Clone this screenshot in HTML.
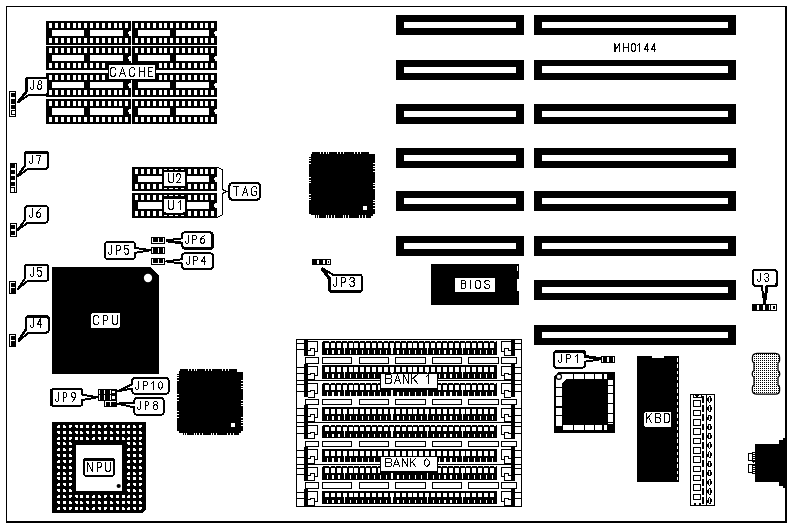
<!DOCTYPE html>
<html><head><meta charset="utf-8"><title>MH0144</title>
<style>
html,body{margin:0;padding:0;background:#fff;}
body{width:791px;height:527px;overflow:hidden;font-family:"Liberation Sans",sans-serif;}
svg{display:block;}
</style></head><body>
<svg width="791" height="527" viewBox="0 0 791 527" shape-rendering="crispEdges">
<rect x="0" y="0" width="791" height="527" fill="#fff"/>
<rect x="6" y="6" width="781" height="1" fill="#000"/>
<rect x="6" y="6" width="1" height="517" fill="#000"/>
<rect x="785" y="6" width="2" height="517" fill="#000"/>
<rect x="6" y="521" width="781" height="2" fill="#000"/>
<rect x="46" y="21" width="85" height="24" fill="#000"/>
<rect x="49" y="23" width="3.4" height="5" fill="#fff"/>
<rect x="49" y="38" width="3.4" height="5" fill="#fff"/>
<rect x="55" y="23" width="3.4" height="5" fill="#fff"/>
<rect x="55" y="38" width="3.4" height="5" fill="#fff"/>
<rect x="60.5" y="23" width="3.4" height="5" fill="#fff"/>
<rect x="60.5" y="38" width="3.4" height="5" fill="#fff"/>
<rect x="66.5" y="23" width="3.4" height="5" fill="#fff"/>
<rect x="66.5" y="38" width="3.4" height="5" fill="#fff"/>
<rect x="72.5" y="23" width="3.4" height="5" fill="#fff"/>
<rect x="72.5" y="38" width="3.4" height="5" fill="#fff"/>
<rect x="78" y="23" width="3.4" height="5" fill="#fff"/>
<rect x="78" y="38" width="3.4" height="5" fill="#fff"/>
<rect x="84" y="23" width="3.4" height="5" fill="#fff"/>
<rect x="84" y="38" width="3.4" height="5" fill="#fff"/>
<rect x="90" y="23" width="3.4" height="5" fill="#fff"/>
<rect x="90" y="38" width="3.4" height="5" fill="#fff"/>
<rect x="96" y="23" width="3.4" height="5" fill="#fff"/>
<rect x="96" y="38" width="3.4" height="5" fill="#fff"/>
<rect x="101.5" y="23" width="3.4" height="5" fill="#fff"/>
<rect x="101.5" y="38" width="3.4" height="5" fill="#fff"/>
<rect x="107.5" y="23" width="3.4" height="5" fill="#fff"/>
<rect x="107.5" y="38" width="3.4" height="5" fill="#fff"/>
<rect x="113.5" y="23" width="3.4" height="5" fill="#fff"/>
<rect x="113.5" y="38" width="3.4" height="5" fill="#fff"/>
<rect x="119" y="23" width="3.4" height="5" fill="#fff"/>
<rect x="119" y="38" width="3.4" height="5" fill="#fff"/>
<rect x="125" y="23" width="3.4" height="5" fill="#fff"/>
<rect x="125" y="38" width="3.4" height="5" fill="#fff"/>
<rect x="52" y="30" width="32" height="6" fill="#fff"/>
<rect x="90" y="30" width="33" height="6" fill="#fff"/>
<path d="M131.2,30.5 L129.5,30.5 L127.8,33 L129.5,35.5 L131.2,35.5 Z" fill="#fff" stroke="none" stroke-width="1"/>
<rect x="132" y="21" width="85" height="24" fill="#000"/>
<rect x="135" y="23" width="3.4" height="5" fill="#fff"/>
<rect x="135" y="38" width="3.4" height="5" fill="#fff"/>
<rect x="141" y="23" width="3.4" height="5" fill="#fff"/>
<rect x="141" y="38" width="3.4" height="5" fill="#fff"/>
<rect x="146.5" y="23" width="3.4" height="5" fill="#fff"/>
<rect x="146.5" y="38" width="3.4" height="5" fill="#fff"/>
<rect x="152.5" y="23" width="3.4" height="5" fill="#fff"/>
<rect x="152.5" y="38" width="3.4" height="5" fill="#fff"/>
<rect x="158.5" y="23" width="3.4" height="5" fill="#fff"/>
<rect x="158.5" y="38" width="3.4" height="5" fill="#fff"/>
<rect x="164" y="23" width="3.4" height="5" fill="#fff"/>
<rect x="164" y="38" width="3.4" height="5" fill="#fff"/>
<rect x="170" y="23" width="3.4" height="5" fill="#fff"/>
<rect x="170" y="38" width="3.4" height="5" fill="#fff"/>
<rect x="176" y="23" width="3.4" height="5" fill="#fff"/>
<rect x="176" y="38" width="3.4" height="5" fill="#fff"/>
<rect x="182" y="23" width="3.4" height="5" fill="#fff"/>
<rect x="182" y="38" width="3.4" height="5" fill="#fff"/>
<rect x="187.5" y="23" width="3.4" height="5" fill="#fff"/>
<rect x="187.5" y="38" width="3.4" height="5" fill="#fff"/>
<rect x="193.5" y="23" width="3.4" height="5" fill="#fff"/>
<rect x="193.5" y="38" width="3.4" height="5" fill="#fff"/>
<rect x="199.5" y="23" width="3.4" height="5" fill="#fff"/>
<rect x="199.5" y="38" width="3.4" height="5" fill="#fff"/>
<rect x="205" y="23" width="3.4" height="5" fill="#fff"/>
<rect x="205" y="38" width="3.4" height="5" fill="#fff"/>
<rect x="211" y="23" width="3.4" height="5" fill="#fff"/>
<rect x="211" y="38" width="3.4" height="5" fill="#fff"/>
<rect x="138" y="30" width="32" height="6" fill="#fff"/>
<rect x="176" y="30" width="33" height="6" fill="#fff"/>
<path d="M217.2,30.5 L215.5,30.5 L213.8,33 L215.5,35.5 L217.2,35.5 Z" fill="#fff" stroke="none" stroke-width="1"/>
<rect x="46" y="46" width="85" height="24" fill="#000"/>
<rect x="49" y="48" width="3.4" height="5" fill="#fff"/>
<rect x="49" y="63" width="3.4" height="5" fill="#fff"/>
<rect x="55" y="48" width="3.4" height="5" fill="#fff"/>
<rect x="55" y="63" width="3.4" height="5" fill="#fff"/>
<rect x="60.5" y="48" width="3.4" height="5" fill="#fff"/>
<rect x="60.5" y="63" width="3.4" height="5" fill="#fff"/>
<rect x="66.5" y="48" width="3.4" height="5" fill="#fff"/>
<rect x="66.5" y="63" width="3.4" height="5" fill="#fff"/>
<rect x="72.5" y="48" width="3.4" height="5" fill="#fff"/>
<rect x="72.5" y="63" width="3.4" height="5" fill="#fff"/>
<rect x="78" y="48" width="3.4" height="5" fill="#fff"/>
<rect x="78" y="63" width="3.4" height="5" fill="#fff"/>
<rect x="84" y="48" width="3.4" height="5" fill="#fff"/>
<rect x="84" y="63" width="3.4" height="5" fill="#fff"/>
<rect x="90" y="48" width="3.4" height="5" fill="#fff"/>
<rect x="90" y="63" width="3.4" height="5" fill="#fff"/>
<rect x="96" y="48" width="3.4" height="5" fill="#fff"/>
<rect x="96" y="63" width="3.4" height="5" fill="#fff"/>
<rect x="101.5" y="48" width="3.4" height="5" fill="#fff"/>
<rect x="101.5" y="63" width="3.4" height="5" fill="#fff"/>
<rect x="107.5" y="48" width="3.4" height="5" fill="#fff"/>
<rect x="107.5" y="63" width="3.4" height="5" fill="#fff"/>
<rect x="113.5" y="48" width="3.4" height="5" fill="#fff"/>
<rect x="113.5" y="63" width="3.4" height="5" fill="#fff"/>
<rect x="119" y="48" width="3.4" height="5" fill="#fff"/>
<rect x="119" y="63" width="3.4" height="5" fill="#fff"/>
<rect x="125" y="48" width="3.4" height="5" fill="#fff"/>
<rect x="125" y="63" width="3.4" height="5" fill="#fff"/>
<rect x="52" y="55" width="32" height="6" fill="#fff"/>
<rect x="90" y="55" width="33" height="6" fill="#fff"/>
<path d="M131.2,55.5 L129.5,55.5 L127.8,58 L129.5,60.5 L131.2,60.5 Z" fill="#fff" stroke="none" stroke-width="1"/>
<rect x="132" y="46" width="85" height="24" fill="#000"/>
<rect x="135" y="48" width="3.4" height="5" fill="#fff"/>
<rect x="135" y="63" width="3.4" height="5" fill="#fff"/>
<rect x="141" y="48" width="3.4" height="5" fill="#fff"/>
<rect x="141" y="63" width="3.4" height="5" fill="#fff"/>
<rect x="146.5" y="48" width="3.4" height="5" fill="#fff"/>
<rect x="146.5" y="63" width="3.4" height="5" fill="#fff"/>
<rect x="152.5" y="48" width="3.4" height="5" fill="#fff"/>
<rect x="152.5" y="63" width="3.4" height="5" fill="#fff"/>
<rect x="158.5" y="48" width="3.4" height="5" fill="#fff"/>
<rect x="158.5" y="63" width="3.4" height="5" fill="#fff"/>
<rect x="164" y="48" width="3.4" height="5" fill="#fff"/>
<rect x="164" y="63" width="3.4" height="5" fill="#fff"/>
<rect x="170" y="48" width="3.4" height="5" fill="#fff"/>
<rect x="170" y="63" width="3.4" height="5" fill="#fff"/>
<rect x="176" y="48" width="3.4" height="5" fill="#fff"/>
<rect x="176" y="63" width="3.4" height="5" fill="#fff"/>
<rect x="182" y="48" width="3.4" height="5" fill="#fff"/>
<rect x="182" y="63" width="3.4" height="5" fill="#fff"/>
<rect x="187.5" y="48" width="3.4" height="5" fill="#fff"/>
<rect x="187.5" y="63" width="3.4" height="5" fill="#fff"/>
<rect x="193.5" y="48" width="3.4" height="5" fill="#fff"/>
<rect x="193.5" y="63" width="3.4" height="5" fill="#fff"/>
<rect x="199.5" y="48" width="3.4" height="5" fill="#fff"/>
<rect x="199.5" y="63" width="3.4" height="5" fill="#fff"/>
<rect x="205" y="48" width="3.4" height="5" fill="#fff"/>
<rect x="205" y="63" width="3.4" height="5" fill="#fff"/>
<rect x="211" y="48" width="3.4" height="5" fill="#fff"/>
<rect x="211" y="63" width="3.4" height="5" fill="#fff"/>
<rect x="138" y="55" width="32" height="6" fill="#fff"/>
<rect x="176" y="55" width="33" height="6" fill="#fff"/>
<path d="M217.2,55.5 L215.5,55.5 L213.8,58 L215.5,60.5 L217.2,60.5 Z" fill="#fff" stroke="none" stroke-width="1"/>
<rect x="46" y="73" width="85" height="24" fill="#000"/>
<rect x="49" y="75" width="3.4" height="5" fill="#fff"/>
<rect x="49" y="90" width="3.4" height="5" fill="#fff"/>
<rect x="55" y="75" width="3.4" height="5" fill="#fff"/>
<rect x="55" y="90" width="3.4" height="5" fill="#fff"/>
<rect x="60.5" y="75" width="3.4" height="5" fill="#fff"/>
<rect x="60.5" y="90" width="3.4" height="5" fill="#fff"/>
<rect x="66.5" y="75" width="3.4" height="5" fill="#fff"/>
<rect x="66.5" y="90" width="3.4" height="5" fill="#fff"/>
<rect x="72.5" y="75" width="3.4" height="5" fill="#fff"/>
<rect x="72.5" y="90" width="3.4" height="5" fill="#fff"/>
<rect x="78" y="75" width="3.4" height="5" fill="#fff"/>
<rect x="78" y="90" width="3.4" height="5" fill="#fff"/>
<rect x="84" y="75" width="3.4" height="5" fill="#fff"/>
<rect x="84" y="90" width="3.4" height="5" fill="#fff"/>
<rect x="90" y="75" width="3.4" height="5" fill="#fff"/>
<rect x="90" y="90" width="3.4" height="5" fill="#fff"/>
<rect x="96" y="75" width="3.4" height="5" fill="#fff"/>
<rect x="96" y="90" width="3.4" height="5" fill="#fff"/>
<rect x="101.5" y="75" width="3.4" height="5" fill="#fff"/>
<rect x="101.5" y="90" width="3.4" height="5" fill="#fff"/>
<rect x="107.5" y="75" width="3.4" height="5" fill="#fff"/>
<rect x="107.5" y="90" width="3.4" height="5" fill="#fff"/>
<rect x="113.5" y="75" width="3.4" height="5" fill="#fff"/>
<rect x="113.5" y="90" width="3.4" height="5" fill="#fff"/>
<rect x="119" y="75" width="3.4" height="5" fill="#fff"/>
<rect x="119" y="90" width="3.4" height="5" fill="#fff"/>
<rect x="125" y="75" width="3.4" height="5" fill="#fff"/>
<rect x="125" y="90" width="3.4" height="5" fill="#fff"/>
<rect x="52" y="82" width="32" height="6" fill="#fff"/>
<rect x="90" y="82" width="33" height="6" fill="#fff"/>
<path d="M131.2,82.5 L129.5,82.5 L127.8,85 L129.5,87.5 L131.2,87.5 Z" fill="#fff" stroke="none" stroke-width="1"/>
<rect x="132" y="73" width="85" height="24" fill="#000"/>
<rect x="135" y="75" width="3.4" height="5" fill="#fff"/>
<rect x="135" y="90" width="3.4" height="5" fill="#fff"/>
<rect x="141" y="75" width="3.4" height="5" fill="#fff"/>
<rect x="141" y="90" width="3.4" height="5" fill="#fff"/>
<rect x="146.5" y="75" width="3.4" height="5" fill="#fff"/>
<rect x="146.5" y="90" width="3.4" height="5" fill="#fff"/>
<rect x="152.5" y="75" width="3.4" height="5" fill="#fff"/>
<rect x="152.5" y="90" width="3.4" height="5" fill="#fff"/>
<rect x="158.5" y="75" width="3.4" height="5" fill="#fff"/>
<rect x="158.5" y="90" width="3.4" height="5" fill="#fff"/>
<rect x="164" y="75" width="3.4" height="5" fill="#fff"/>
<rect x="164" y="90" width="3.4" height="5" fill="#fff"/>
<rect x="170" y="75" width="3.4" height="5" fill="#fff"/>
<rect x="170" y="90" width="3.4" height="5" fill="#fff"/>
<rect x="176" y="75" width="3.4" height="5" fill="#fff"/>
<rect x="176" y="90" width="3.4" height="5" fill="#fff"/>
<rect x="182" y="75" width="3.4" height="5" fill="#fff"/>
<rect x="182" y="90" width="3.4" height="5" fill="#fff"/>
<rect x="187.5" y="75" width="3.4" height="5" fill="#fff"/>
<rect x="187.5" y="90" width="3.4" height="5" fill="#fff"/>
<rect x="193.5" y="75" width="3.4" height="5" fill="#fff"/>
<rect x="193.5" y="90" width="3.4" height="5" fill="#fff"/>
<rect x="199.5" y="75" width="3.4" height="5" fill="#fff"/>
<rect x="199.5" y="90" width="3.4" height="5" fill="#fff"/>
<rect x="205" y="75" width="3.4" height="5" fill="#fff"/>
<rect x="205" y="90" width="3.4" height="5" fill="#fff"/>
<rect x="211" y="75" width="3.4" height="5" fill="#fff"/>
<rect x="211" y="90" width="3.4" height="5" fill="#fff"/>
<rect x="138" y="82" width="32" height="6" fill="#fff"/>
<rect x="176" y="82" width="33" height="6" fill="#fff"/>
<path d="M217.2,82.5 L215.5,82.5 L213.8,85 L215.5,87.5 L217.2,87.5 Z" fill="#fff" stroke="none" stroke-width="1"/>
<rect x="46" y="99" width="85" height="24.5" fill="#000"/>
<rect x="49" y="101" width="3.4" height="5" fill="#fff"/>
<rect x="49" y="116.5" width="3.4" height="5" fill="#fff"/>
<rect x="55" y="101" width="3.4" height="5" fill="#fff"/>
<rect x="55" y="116.5" width="3.4" height="5" fill="#fff"/>
<rect x="60.5" y="101" width="3.4" height="5" fill="#fff"/>
<rect x="60.5" y="116.5" width="3.4" height="5" fill="#fff"/>
<rect x="66.5" y="101" width="3.4" height="5" fill="#fff"/>
<rect x="66.5" y="116.5" width="3.4" height="5" fill="#fff"/>
<rect x="72.5" y="101" width="3.4" height="5" fill="#fff"/>
<rect x="72.5" y="116.5" width="3.4" height="5" fill="#fff"/>
<rect x="78" y="101" width="3.4" height="5" fill="#fff"/>
<rect x="78" y="116.5" width="3.4" height="5" fill="#fff"/>
<rect x="84" y="101" width="3.4" height="5" fill="#fff"/>
<rect x="84" y="116.5" width="3.4" height="5" fill="#fff"/>
<rect x="90" y="101" width="3.4" height="5" fill="#fff"/>
<rect x="90" y="116.5" width="3.4" height="5" fill="#fff"/>
<rect x="96" y="101" width="3.4" height="5" fill="#fff"/>
<rect x="96" y="116.5" width="3.4" height="5" fill="#fff"/>
<rect x="101.5" y="101" width="3.4" height="5" fill="#fff"/>
<rect x="101.5" y="116.5" width="3.4" height="5" fill="#fff"/>
<rect x="107.5" y="101" width="3.4" height="5" fill="#fff"/>
<rect x="107.5" y="116.5" width="3.4" height="5" fill="#fff"/>
<rect x="113.5" y="101" width="3.4" height="5" fill="#fff"/>
<rect x="113.5" y="116.5" width="3.4" height="5" fill="#fff"/>
<rect x="119" y="101" width="3.4" height="5" fill="#fff"/>
<rect x="119" y="116.5" width="3.4" height="5" fill="#fff"/>
<rect x="125" y="101" width="3.4" height="5" fill="#fff"/>
<rect x="125" y="116.5" width="3.4" height="5" fill="#fff"/>
<rect x="52" y="108" width="32" height="6.5" fill="#fff"/>
<rect x="90" y="108" width="33" height="6.5" fill="#fff"/>
<path d="M131.2,108.75 L129.5,108.75 L127.8,111.25 L129.5,113.75 L131.2,113.75 Z" fill="#fff" stroke="none" stroke-width="1"/>
<rect x="132" y="99" width="85" height="24.5" fill="#000"/>
<rect x="135" y="101" width="3.4" height="5" fill="#fff"/>
<rect x="135" y="116.5" width="3.4" height="5" fill="#fff"/>
<rect x="141" y="101" width="3.4" height="5" fill="#fff"/>
<rect x="141" y="116.5" width="3.4" height="5" fill="#fff"/>
<rect x="146.5" y="101" width="3.4" height="5" fill="#fff"/>
<rect x="146.5" y="116.5" width="3.4" height="5" fill="#fff"/>
<rect x="152.5" y="101" width="3.4" height="5" fill="#fff"/>
<rect x="152.5" y="116.5" width="3.4" height="5" fill="#fff"/>
<rect x="158.5" y="101" width="3.4" height="5" fill="#fff"/>
<rect x="158.5" y="116.5" width="3.4" height="5" fill="#fff"/>
<rect x="164" y="101" width="3.4" height="5" fill="#fff"/>
<rect x="164" y="116.5" width="3.4" height="5" fill="#fff"/>
<rect x="170" y="101" width="3.4" height="5" fill="#fff"/>
<rect x="170" y="116.5" width="3.4" height="5" fill="#fff"/>
<rect x="176" y="101" width="3.4" height="5" fill="#fff"/>
<rect x="176" y="116.5" width="3.4" height="5" fill="#fff"/>
<rect x="182" y="101" width="3.4" height="5" fill="#fff"/>
<rect x="182" y="116.5" width="3.4" height="5" fill="#fff"/>
<rect x="187.5" y="101" width="3.4" height="5" fill="#fff"/>
<rect x="187.5" y="116.5" width="3.4" height="5" fill="#fff"/>
<rect x="193.5" y="101" width="3.4" height="5" fill="#fff"/>
<rect x="193.5" y="116.5" width="3.4" height="5" fill="#fff"/>
<rect x="199.5" y="101" width="3.4" height="5" fill="#fff"/>
<rect x="199.5" y="116.5" width="3.4" height="5" fill="#fff"/>
<rect x="205" y="101" width="3.4" height="5" fill="#fff"/>
<rect x="205" y="116.5" width="3.4" height="5" fill="#fff"/>
<rect x="211" y="101" width="3.4" height="5" fill="#fff"/>
<rect x="211" y="116.5" width="3.4" height="5" fill="#fff"/>
<rect x="138" y="108" width="32" height="6.5" fill="#fff"/>
<rect x="176" y="108" width="33" height="6.5" fill="#fff"/>
<path d="M217.2,108.75 L215.5,108.75 L213.8,111.25 L215.5,113.75 L217.2,113.75 Z" fill="#fff" stroke="none" stroke-width="1"/>
<rect x="107.6" y="62.6" width="48.4" height="17.4" fill="#000"/>
<rect x="108.6" y="65" width="46.4" height="14" fill="#fff"/>
<path d="M 115.5,69.5 Q 115.5,67.5 113.5,67.5 L 112.5,67.5 Q 110.5,67.5 110.5,70.5 L 110.5,73.5 Q 110.5,76.5 112.5,76.5 L 113.5,76.5 Q 115.5,76.5 115.5,73.5" fill="none" stroke="#000" stroke-width="1" stroke-linecap="square" stroke-linejoin="round"/>
<path d="M 119.5,76.5 L 122.5,67.5 L 125.5,76.5 M 120.5,73.5 L 124.5,73.5" fill="none" stroke="#000" stroke-width="1" stroke-linecap="square" stroke-linejoin="round"/>
<path d="M 134.5,69.5 Q 134.5,67.5 132.5,67.5 L 132.5,67.5 Q 129.5,67.5 129.5,70.5 L 129.5,73.5 Q 129.5,76.5 132.5,76.5 L 132.5,76.5 Q 134.5,76.5 134.5,73.5" fill="none" stroke="#000" stroke-width="1" stroke-linecap="square" stroke-linejoin="round"/>
<path d="M 139.5,67.5 L 139.5,76.5 M 144.5,67.5 L 144.5,76.5 M 139.5,71.5 L 144.5,71.5" fill="none" stroke="#000" stroke-width="1" stroke-linecap="square" stroke-linejoin="round"/>
<path d="M 152.5,67.5 L 148.5,67.5 L 148.5,76.5 L 152.5,76.5 M 148.5,71.5 L 151.5,71.5" fill="none" stroke="#000" stroke-width="1" stroke-linecap="square" stroke-linejoin="round"/>
<rect x="132" y="167" width="85" height="24" fill="#000"/>
<rect x="135" y="169" width="3.4" height="5" fill="#fff"/>
<rect x="135" y="184" width="3.4" height="5" fill="#fff"/>
<rect x="141" y="169" width="3.4" height="5" fill="#fff"/>
<rect x="141" y="184" width="3.4" height="5" fill="#fff"/>
<rect x="146.5" y="169" width="3.4" height="5" fill="#fff"/>
<rect x="146.5" y="184" width="3.4" height="5" fill="#fff"/>
<rect x="152.5" y="169" width="3.4" height="5" fill="#fff"/>
<rect x="152.5" y="184" width="3.4" height="5" fill="#fff"/>
<rect x="158.5" y="169" width="3.4" height="5" fill="#fff"/>
<rect x="158.5" y="184" width="3.4" height="5" fill="#fff"/>
<rect x="164" y="169" width="3.4" height="5" fill="#fff"/>
<rect x="164" y="184" width="3.4" height="5" fill="#fff"/>
<rect x="170" y="169" width="3.4" height="5" fill="#fff"/>
<rect x="170" y="184" width="3.4" height="5" fill="#fff"/>
<rect x="176" y="169" width="3.4" height="5" fill="#fff"/>
<rect x="176" y="184" width="3.4" height="5" fill="#fff"/>
<rect x="182" y="169" width="3.4" height="5" fill="#fff"/>
<rect x="182" y="184" width="3.4" height="5" fill="#fff"/>
<rect x="187.5" y="169" width="3.4" height="5" fill="#fff"/>
<rect x="187.5" y="184" width="3.4" height="5" fill="#fff"/>
<rect x="193.5" y="169" width="3.4" height="5" fill="#fff"/>
<rect x="193.5" y="184" width="3.4" height="5" fill="#fff"/>
<rect x="199.5" y="169" width="3.4" height="5" fill="#fff"/>
<rect x="199.5" y="184" width="3.4" height="5" fill="#fff"/>
<rect x="205" y="169" width="3.4" height="5" fill="#fff"/>
<rect x="205" y="184" width="3.4" height="5" fill="#fff"/>
<rect x="211" y="169" width="3.4" height="5" fill="#fff"/>
<rect x="211" y="184" width="3.4" height="5" fill="#fff"/>
<rect x="138" y="176" width="32" height="6" fill="#fff"/>
<rect x="176" y="176" width="33" height="6" fill="#fff"/>
<path d="M217.2,176.5 L215.5,176.5 L213.8,179 L215.5,181.5 L217.2,181.5 Z" fill="#fff" stroke="none" stroke-width="1"/>
<rect x="132" y="193" width="85" height="25" fill="#000"/>
<rect x="135" y="195" width="3.4" height="5" fill="#fff"/>
<rect x="135" y="211" width="3.4" height="5" fill="#fff"/>
<rect x="141" y="195" width="3.4" height="5" fill="#fff"/>
<rect x="141" y="211" width="3.4" height="5" fill="#fff"/>
<rect x="146.5" y="195" width="3.4" height="5" fill="#fff"/>
<rect x="146.5" y="211" width="3.4" height="5" fill="#fff"/>
<rect x="152.5" y="195" width="3.4" height="5" fill="#fff"/>
<rect x="152.5" y="211" width="3.4" height="5" fill="#fff"/>
<rect x="158.5" y="195" width="3.4" height="5" fill="#fff"/>
<rect x="158.5" y="211" width="3.4" height="5" fill="#fff"/>
<rect x="164" y="195" width="3.4" height="5" fill="#fff"/>
<rect x="164" y="211" width="3.4" height="5" fill="#fff"/>
<rect x="170" y="195" width="3.4" height="5" fill="#fff"/>
<rect x="170" y="211" width="3.4" height="5" fill="#fff"/>
<rect x="176" y="195" width="3.4" height="5" fill="#fff"/>
<rect x="176" y="211" width="3.4" height="5" fill="#fff"/>
<rect x="182" y="195" width="3.4" height="5" fill="#fff"/>
<rect x="182" y="211" width="3.4" height="5" fill="#fff"/>
<rect x="187.5" y="195" width="3.4" height="5" fill="#fff"/>
<rect x="187.5" y="211" width="3.4" height="5" fill="#fff"/>
<rect x="193.5" y="195" width="3.4" height="5" fill="#fff"/>
<rect x="193.5" y="211" width="3.4" height="5" fill="#fff"/>
<rect x="199.5" y="195" width="3.4" height="5" fill="#fff"/>
<rect x="199.5" y="211" width="3.4" height="5" fill="#fff"/>
<rect x="205" y="195" width="3.4" height="5" fill="#fff"/>
<rect x="205" y="211" width="3.4" height="5" fill="#fff"/>
<rect x="211" y="195" width="3.4" height="5" fill="#fff"/>
<rect x="211" y="211" width="3.4" height="5" fill="#fff"/>
<rect x="138" y="202" width="32" height="7" fill="#fff"/>
<rect x="176" y="202" width="33" height="7" fill="#fff"/>
<path d="M217.2,203 L215.5,203 L213.8,205.5 L215.5,208 L217.2,208 Z" fill="#fff" stroke="none" stroke-width="1"/>
<rect x="161.8" y="167" width="25.2" height="24" fill="#000"/>
<path d="M163.5,169.5 H186 M163.5,188.5 H186" stroke="#fff" stroke-width="1" stroke-dasharray="3.2,2.6" fill="none"/>
<rect x="163.6" y="172" width="21.6" height="14" fill="#fff" rx="2"/>
<rect x="161.8" y="193" width="25.2" height="25" fill="#000"/>
<path d="M163.5,195.8 H186 M163.5,215.3 H186" stroke="#fff" stroke-width="1" stroke-dasharray="3.2,2.6" fill="none"/>
<rect x="163.6" y="198.5" width="21.6" height="14" fill="#fff" rx="2"/>
<path d="M 168.5,173.5 L 168.5,180.5 Q 168.5,182.5 171.5,182.5 Q 173.5,182.5 173.5,180.5 L 173.5,173.5" fill="none" stroke="#000" stroke-width="1" stroke-linecap="square" stroke-linejoin="round"/>
<path d="M 176.5,176.5 Q 176.5,173.5 178.5,173.5 Q 180.5,173.5 180.5,176.5 Q 180.5,177.5 179.5,179.5 L 176.5,182.5 L 180.5,182.5" fill="none" stroke="#000" stroke-width="1" stroke-linecap="square" stroke-linejoin="round"/>
<path d="M 168.5,200.5 L 168.5,206.5 Q 168.5,209.5 171.5,209.5 Q 173.5,209.5 173.5,206.5 L 173.5,200.5" fill="none" stroke="#000" stroke-width="1" stroke-linecap="square" stroke-linejoin="round"/>
<path d="M 178.5,202.5 L 180.5,200.5 L 180.5,209.5" fill="none" stroke="#000" stroke-width="1" stroke-linecap="square" stroke-linejoin="round"/>
<path d="M217.5,167.5 L222.5,169.5 L222.5,189.5 L226.5,191.5 L222.5,193.5 L222.5,214.5 L217.5,217.5" fill="none" stroke="#000" stroke-width="1"/>
<path d="M229.3,185.8 L230.14,183.84 L232.1,183 L257.2,183 L259.16,183.84 L260,185.8 L260,196.9 L259.16,198.86 L257.2,199.7 L232.1,199.7 L230.14,198.86 L229.3,196.9 Z" fill="#fff" stroke="#000" stroke-width="2" stroke-linejoin="round"/>
<path d="M 233.5,186.5 L 238.5,186.5 M 236.5,186.5 L 236.5,195.5" fill="none" stroke="#000" stroke-width="1" stroke-linecap="square" stroke-linejoin="round"/>
<path d="M 242.5,195.5 L 245.5,186.5 L 247.5,195.5 M 243.5,192.5 L 246.5,192.5" fill="none" stroke="#000" stroke-width="1" stroke-linecap="square" stroke-linejoin="round"/>
<path d="M 256.5,188.5 Q 256.5,186.5 254.5,186.5 L 254.5,186.5 Q 251.5,186.5 251.5,189.5 L 251.5,192.5 Q 251.5,195.5 254.5,195.5 L 254.5,195.5 Q 256.5,195.5 256.5,193.5 L 256.5,191.5 L 254.5,191.5" fill="none" stroke="#000" stroke-width="1" stroke-linecap="square" stroke-linejoin="round"/>
<rect x="9.5" y="91.5" width="6" height="25" fill="#fff" stroke="#000" stroke-width="1"/>
<rect x="11" y="93" width="5" height="3.6" fill="#000"/>
<rect x="11" y="98.6" width="5" height="5.2" fill="#000"/>
<rect x="11" y="105.1" width="5" height="4.1" fill="#000"/>
<rect x="11.5" y="110.8" width="4" height="3.7" fill="#fff" stroke="#000" stroke-width="1"/>
<rect x="10.5" y="163.5" width="6" height="29" fill="#fff" stroke="#000" stroke-width="1"/>
<rect x="10" y="163" width="5" height="4.7" fill="#000"/>
<rect x="10" y="170" width="5" height="3.7" fill="#000"/>
<rect x="10" y="176" width="5" height="3.6" fill="#000"/>
<rect x="10" y="181.5" width="5" height="4.2" fill="#000"/>
<rect x="10.5" y="187.7" width="4" height="4.8" fill="#fff" stroke="#000" stroke-width="1"/>
<rect x="10.5" y="223.5" width="6" height="12.6" fill="#fff" stroke="#000" stroke-width="1"/>
<rect x="10" y="225" width="5" height="4.2" fill="#000"/>
<rect x="10" y="231.1" width="5" height="3.5" fill="#000"/>
<rect x="9.5" y="281.5" width="6" height="12" fill="#fff" stroke="#000" stroke-width="1"/>
<rect x="11" y="283" width="5" height="4" fill="#000"/>
<rect x="11" y="288" width="5" height="6" fill="#000"/>
<rect x="9.5" y="334.5" width="6" height="12" fill="#fff" stroke="#000" stroke-width="1"/>
<rect x="11" y="336" width="5" height="4" fill="#000"/>
<rect x="11" y="341" width="5" height="6" fill="#000"/>
<path d="M26.8,79.8 L27.4,78.4 L28.8,77.8 L45.8,77.8 L47.2,78.4 L47.8,79.8 L47.8,92.5 L47.2,93.9 L45.8,94.5 L29.6,94.5 L18.8,101.8 L26.8,91.7 Z" transform="translate(-0.9,0)" fill="#000" stroke="#000" stroke-width="2" stroke-linejoin="round"/>
<path d="M26.8,79.8 L27.4,78.4 L28.8,77.8 L45.8,77.8 L47.2,78.4 L47.8,79.8 L47.8,92.5 L47.2,93.9 L45.8,94.5 L29.6,94.5 L18.8,101.8 L26.8,91.7 Z" fill="#fff" stroke="#000" stroke-width="2" stroke-linejoin="round"/>
<path d="M 33.5,80.5 L 33.5,87.5 Q 33.5,89.5 31.5,89.5 Q 30.5,89.5 30.5,87.5" fill="none" stroke="#000" stroke-width="1" stroke-linecap="square" stroke-linejoin="round"/>
<path d="M 39.5,80.5 Q 38.5,80.5 38.5,82.5 Q 38.5,84.5 39.5,84.5 Q 41.5,84.5 41.5,82.5 Q 41.5,80.5 39.5,80.5 Z M 39.5,84.5 Q 37.5,84.5 37.5,86.5 Q 37.5,89.5 39.5,89.5 Q 41.5,89.5 41.5,86.5 Q 41.5,84.5 39.5,84.5 Z" fill="none" stroke="#000" stroke-width="1" stroke-linecap="square" stroke-linejoin="round"/>
<path d="M25,154.6 L25.6,153.2 L27,152.6 L46,152.6 L47.4,153.2 L48,154.6 L48,166.8 L47.4,168.2 L46,168.8 L27.8,168.8 L18,176.3 L25,166 Z" transform="translate(0,-0.9)" fill="#000" stroke="#000" stroke-width="2" stroke-linejoin="round"/>
<path d="M25,154.6 L25.6,153.2 L27,152.6 L46,152.6 L47.4,153.2 L48,154.6 L48,166.8 L47.4,168.2 L46,168.8 L27.8,168.8 L18,176.3 L25,166 Z" fill="#fff" stroke="#000" stroke-width="2" stroke-linejoin="round"/>
<path d="M 32.5,155.5 L 32.5,161.5 Q 32.5,163.5 30.5,163.5 Q 29.5,163.5 29.5,161.5" fill="none" stroke="#000" stroke-width="1" stroke-linecap="square" stroke-linejoin="round"/>
<path d="M 36.5,155.5 L 40.5,155.5 L 38.5,163.5" fill="none" stroke="#000" stroke-width="1" stroke-linecap="square" stroke-linejoin="round"/>
<path d="M25.3,207.9 L25.9,206.5 L27.3,205.9 L45.8,205.9 L47.2,206.5 L47.8,207.9 L47.8,220.5 L47.2,221.9 L45.8,222.5 L28.1,222.5 L17.8,229.8 L25.3,219.7 Z" fill="#fff" stroke="#000" stroke-width="2" stroke-linejoin="round"/>
<path d="M 32.5,208.5 L 32.5,215.5 Q 32.5,217.5 30.5,217.5 Q 29.5,217.5 29.5,215.5" fill="none" stroke="#000" stroke-width="1" stroke-linecap="square" stroke-linejoin="round"/>
<path d="M 40.5,208.5 Q 36.5,211.5 36.5,214.5 Q 36.5,217.5 38.5,217.5 Q 40.5,217.5 40.5,214.5 Q 40.5,212.5 38.5,212.5 Q 37.5,212.5 36.5,214.5" fill="none" stroke="#000" stroke-width="1" stroke-linecap="square" stroke-linejoin="round"/>
<path d="M25,266.7 L25.6,265.3 L27,264.7 L46.2,264.7 L47.6,265.3 L48.2,266.7 L48.2,278.9 L47.6,280.3 L46.2,280.9 L27.8,280.9 L18,288.8 L25,278.1 Z" fill="#fff" stroke="#000" stroke-width="2" stroke-linejoin="round"/>
<path d="M 33.5,267.5 L 33.5,274.5 Q 33.5,276.5 31.5,276.5 Q 30.5,276.5 30.5,274.5" fill="none" stroke="#000" stroke-width="1" stroke-linecap="square" stroke-linejoin="round"/>
<path d="M 41.5,267.5 L 37.5,267.5 L 37.5,271.5 Q 38.5,270.5 39.5,270.5 Q 41.5,270.5 41.5,273.5 Q 41.5,276.5 39.5,276.5 Q 38.5,276.5 37.5,274.5" fill="none" stroke="#000" stroke-width="1" stroke-linecap="square" stroke-linejoin="round"/>
<path d="M26,318.9 L26.6,317.5 L28,316.9 L46.7,316.9 L48.1,317.5 L48.7,318.9 L48.7,330.5 L48.1,331.9 L46.7,332.5 L28.8,332.5 L18.6,341 L26,329.7 Z" transform="translate(0,-0.8)" fill="#000" stroke="#000" stroke-width="2" stroke-linejoin="round"/>
<path d="M26,318.9 L26.6,317.5 L28,316.9 L46.7,316.9 L48.1,317.5 L48.7,318.9 L48.7,330.5 L48.1,331.9 L46.7,332.5 L28.8,332.5 L18.6,341 L26,329.7 Z" fill="#fff" stroke="#000" stroke-width="2" stroke-linejoin="round"/>
<path d="M 33.5,318.5 L 33.5,325.5 Q 33.5,327.5 31.5,327.5 Q 30.5,327.5 30.5,325.5" fill="none" stroke="#000" stroke-width="1" stroke-linecap="square" stroke-linejoin="round"/>
<path d="M 40.5,327.5 L 40.5,318.5 L 37.5,324.5 L 41.5,324.5" fill="none" stroke="#000" stroke-width="1" stroke-linecap="square" stroke-linejoin="round"/>
<rect x="151.5" y="237.5" width="13" height="6" fill="#fff" stroke="#000" stroke-width="1"/>
<rect x="153.2" y="238" width="4.6" height="4" fill="#000"/>
<rect x="159.2" y="238" width="3.8" height="4" fill="#000"/>
<rect x="151" y="247" width="14" height="7" fill="#000"/>
<rect x="152.2" y="248" width="1" height="5" fill="#fff"/>
<rect x="158" y="248" width="1" height="5" fill="#fff"/>
<rect x="162.6" y="248" width="1" height="5" fill="#fff"/>
<rect x="151.5" y="258.5" width="13" height="6" fill="#fff" stroke="#000" stroke-width="1"/>
<rect x="153.2" y="259" width="4.6" height="4" fill="#000"/>
<rect x="159.2" y="259" width="3.8" height="4" fill="#000"/>
<path d="M182.2,234.3 L182.8,232.9 L184.2,232.3 L210.2,232.3 L211.6,232.9 L212.2,234.3 L212.2,246 L211.6,247.4 L210.2,248 L184.2,248 L182.8,247.4 L182.2,246 L182.2,242.7 L166.5,240.5 L182.2,238.3 Z" transform="translate(0.7,0.9)" fill="#000" stroke="#000" stroke-width="2" stroke-linejoin="round"/>
<path d="M182.2,234.3 L182.8,232.9 L184.2,232.3 L210.2,232.3 L211.6,232.9 L212.2,234.3 L212.2,246 L211.6,247.4 L210.2,248 L184.2,248 L182.8,247.4 L182.2,246 L182.2,242.7 L166.5,240.5 L182.2,238.3 Z" fill="#fff" stroke="#000" stroke-width="2" stroke-linejoin="round"/>
<path d="M 188.5,235.5 L 188.5,241.5 Q 188.5,243.5 186.5,243.5 Q 185.5,243.5 185.5,241.5" fill="none" stroke="#000" stroke-width="1" stroke-linecap="square" stroke-linejoin="round"/>
<path d="M 192.5,243.5 L 192.5,235.5 L 195.5,235.5 Q 196.5,235.5 196.5,237.5 Q 196.5,239.5 195.5,239.5 L 192.5,239.5" fill="none" stroke="#000" stroke-width="1" stroke-linecap="square" stroke-linejoin="round"/>
<path d="M 204.5,235.5 Q 200.5,237.5 200.5,240.5 Q 200.5,243.5 202.5,243.5 Q 204.5,243.5 204.5,240.5 Q 204.5,238.5 202.5,238.5 Q 201.5,238.5 200.5,240.5" fill="none" stroke="#000" stroke-width="1" stroke-linecap="square" stroke-linejoin="round"/>
<path d="M105,244 L105.6,242.6 L107,242 L133,242 L134.4,242.6 L135,244 L135,247.8 L150.5,250.3 L135,252.8 L135,257 L134.4,258.4 L133,259 L107,259 L105.6,258.4 L105,257 Z" fill="#fff" stroke="#000" stroke-width="2" stroke-linejoin="round"/>
<path d="M 111.5,245.5 L 111.5,252.5 Q 111.5,254.5 109.5,254.5 Q 108.5,254.5 108.5,252.5" fill="none" stroke="#000" stroke-width="1" stroke-linecap="square" stroke-linejoin="round"/>
<path d="M 116.5,254.5 L 116.5,245.5 L 118.5,245.5 Q 120.5,245.5 120.5,247.5 Q 120.5,250.5 118.5,250.5 L 116.5,250.5" fill="none" stroke="#000" stroke-width="1" stroke-linecap="square" stroke-linejoin="round"/>
<path d="M 128.5,245.5 L 124.5,245.5 L 124.5,249.5 Q 125.5,248.5 126.5,248.5 Q 128.5,248.5 128.5,251.5 Q 128.5,254.5 126.5,254.5 Q 125.5,254.5 124.5,252.5" fill="none" stroke="#000" stroke-width="1" stroke-linecap="square" stroke-linejoin="round"/>
<path d="M182.2,255.3 L182.8,253.9 L184.2,253.3 L210.8,253.3 L212.2,253.9 L212.8,255.3 L212.8,266.8 L212.2,268.2 L210.8,268.8 L184.2,268.8 L182.8,268.2 L182.2,266.8 L182.2,263.6 L166.5,261.4 L182.2,259.2 Z" fill="#fff" stroke="#000" stroke-width="2" stroke-linejoin="round"/>
<path d="M 189.5,256.5 L 189.5,262.5 Q 189.5,264.5 188.5,264.5 Q 186.5,264.5 186.5,262.5" fill="none" stroke="#000" stroke-width="1" stroke-linecap="square" stroke-linejoin="round"/>
<path d="M 193.5,264.5 L 193.5,256.5 L 196.5,256.5 Q 197.5,256.5 197.5,258.5 Q 197.5,260.5 196.5,260.5 L 193.5,260.5" fill="none" stroke="#000" stroke-width="1" stroke-linecap="square" stroke-linejoin="round"/>
<path d="M 204.5,264.5 L 204.5,256.5 L 201.5,261.5 L 205.5,261.5" fill="none" stroke="#000" stroke-width="1" stroke-linecap="square" stroke-linejoin="round"/>
<path d="M52,267 L150,267 L159,276 L159,373.5 L52,373.5 Z" fill="#000" stroke="none" stroke-width="1"/>
<circle cx="148" cy="278" r="4.15" fill="#fff" shape-rendering="geometricPrecision"/>
<rect x="91" y="313" width="29" height="15" fill="#fff" rx="2"/>
<path d="M 98.5,317.5 Q 98.5,315.5 96.5,315.5 L 95.5,315.5 Q 93.5,315.5 93.5,318.5 L 93.5,321.5 Q 93.5,324.5 95.5,324.5 L 96.5,324.5 Q 98.5,324.5 98.5,322.5" fill="none" stroke="#000" stroke-width="1" stroke-linecap="square" stroke-linejoin="round"/>
<path d="M 103.5,324.5 L 103.5,315.5 L 106.5,315.5 Q 107.5,315.5 107.5,317.5 Q 107.5,320.5 106.5,320.5 L 103.5,320.5" fill="none" stroke="#000" stroke-width="1" stroke-linecap="square" stroke-linejoin="round"/>
<path d="M 112.5,315.5 L 112.5,321.5 Q 112.5,324.5 115.5,324.5 Q 117.5,324.5 117.5,321.5 L 117.5,315.5" fill="none" stroke="#000" stroke-width="1" stroke-linecap="square" stroke-linejoin="round"/>
<rect x="98" y="389" width="19" height="12" fill="#000"/>
<rect x="104" y="401" width="13" height="6" fill="#000"/>
<rect x="99" y="390.3" width="1" height="3.3" fill="#fff"/>
<rect x="99" y="395.2" width="1" height="4.4" fill="#fff"/>
<rect x="104.3" y="390.3" width="1" height="3.3" fill="#fff"/>
<rect x="104.3" y="395.2" width="1" height="4.4" fill="#fff"/>
<rect x="110.2" y="390.3" width="1" height="3.3" fill="#fff"/>
<rect x="110.2" y="395.2" width="1" height="4.4" fill="#fff"/>
<rect x="112" y="391" width="3" height="2.4" fill="#fff"/>
<rect x="112" y="396" width="3" height="3.4" fill="#fff"/>
<rect x="105" y="401.3" width="11" height="1" fill="#fff"/>
<rect x="105" y="402.3" width="1" height="3.7" fill="#fff"/>
<rect x="110" y="402.3" width="1" height="3.7" fill="#fff"/>
<path d="M51.8,391 L52.4,389.6 L53.8,389 L80.2,389 L81.6,389.6 L82.2,391 L82.2,394.6 L97.5,397.3 L82.2,400 L82.2,403.9 L81.6,405.3 L80.2,405.9 L53.8,405.9 L52.4,405.3 L51.8,403.9 Z" transform="translate(-0.9,0)" fill="#000" stroke="#000" stroke-width="2" stroke-linejoin="round"/>
<path d="M51.8,391 L52.4,389.6 L53.8,389 L80.2,389 L81.6,389.6 L82.2,391 L82.2,394.6 L97.5,397.3 L82.2,400 L82.2,403.9 L81.6,405.3 L80.2,405.9 L53.8,405.9 L52.4,405.3 L51.8,403.9 Z" fill="#fff" stroke="#000" stroke-width="2" stroke-linejoin="round"/>
<path d="M 58.5,392.5 L 58.5,399.5 Q 58.5,401.5 56.5,401.5 Q 55.5,401.5 55.5,399.5" fill="none" stroke="#000" stroke-width="1" stroke-linecap="square" stroke-linejoin="round"/>
<path d="M 63.5,401.5 L 63.5,392.5 L 65.5,392.5 Q 66.5,392.5 66.5,394.5 Q 66.5,397.5 65.5,397.5 L 63.5,397.5" fill="none" stroke="#000" stroke-width="1" stroke-linecap="square" stroke-linejoin="round"/>
<path d="M 75.5,395.5 Q 75.5,397.5 73.5,397.5 Q 71.5,397.5 71.5,394.5 Q 71.5,392.5 73.5,392.5 Q 75.5,392.5 75.5,395.5 Q 75.5,398.5 72.5,401.5" fill="none" stroke="#000" stroke-width="1" stroke-linecap="square" stroke-linejoin="round"/>
<path d="M132.3,380.2 L132.9,378.8 L134.3,378.2 L166.7,378.2 L168.1,378.8 L168.7,380.2 L168.7,391.7 L168.1,393.1 L166.7,393.7 L134.3,393.7 L132.9,393.1 L132.3,391.7 L132.3,388.6 L117.5,391.3 L132.3,384.2 Z" fill="#fff" stroke="#000" stroke-width="2" stroke-linejoin="round"/>
<path d="M 138.5,381.5 L 138.5,387.5 Q 138.5,389.5 137.5,389.5 Q 135.5,389.5 135.5,387.5" fill="none" stroke="#000" stroke-width="1" stroke-linecap="square" stroke-linejoin="round"/>
<path d="M 143.5,389.5 L 143.5,381.5 L 145.5,381.5 Q 147.5,381.5 147.5,383.5 Q 147.5,385.5 145.5,385.5 L 143.5,385.5" fill="none" stroke="#000" stroke-width="1" stroke-linecap="square" stroke-linejoin="round"/>
<path d="M 151.5,383.5 L 153.5,381.5 L 153.5,389.5" fill="none" stroke="#000" stroke-width="1" stroke-linecap="square" stroke-linejoin="round"/>
<path d="M 160.5,381.5 Q 158.5,382.5 158.5,385.5 Q 158.5,387.5 160.5,389.5 Q 162.5,387.5 162.5,385.5 Q 162.5,382.5 160.5,381.5 Z" fill="none" stroke="#000" stroke-width="1" stroke-linecap="square" stroke-linejoin="round"/>
<path d="M134.4,400.2 L135,398.8 L136.4,398.2 L161.7,398.2 L163.1,398.8 L163.7,400.2 L163.7,412.6 L163.1,414 L161.7,414.6 L136.4,414.6 L135,414 L134.4,412.6 L134.4,407.5 L117.5,403.6 L134.4,402.6 Z" fill="#fff" stroke="#000" stroke-width="2" stroke-linejoin="round"/>
<path d="M 140.5,401.5 L 140.5,407.5 Q 140.5,409.5 138.5,409.5 Q 137.5,409.5 137.5,407.5" fill="none" stroke="#000" stroke-width="1" stroke-linecap="square" stroke-linejoin="round"/>
<path d="M 145.5,409.5 L 145.5,401.5 L 147.5,401.5 Q 148.5,401.5 148.5,403.5 Q 148.5,405.5 147.5,405.5 L 145.5,405.5" fill="none" stroke="#000" stroke-width="1" stroke-linecap="square" stroke-linejoin="round"/>
<path d="M 155.5,401.5 Q 153.5,401.5 153.5,402.5 Q 153.5,404.5 155.5,404.5 Q 157.5,404.5 157.5,402.5 Q 157.5,401.5 155.5,401.5 Z M 155.5,404.5 Q 153.5,404.5 153.5,407.5 Q 153.5,409.5 155.5,409.5 Q 157.5,409.5 157.5,407.5 Q 157.5,404.5 155.5,404.5 Z" fill="none" stroke="#000" stroke-width="1" stroke-linecap="square" stroke-linejoin="round"/>
<path d="M52,422 L145.6,422 L145.6,509.5 L142.5,512.6 L52,512.6 Z" fill="#000" stroke="none" stroke-width="1"/>
<rect x="57" y="425" width="3" height="3" fill="#fff"/>
<rect x="57" y="425" width="1" height="1" fill="#000"/>
<rect x="57" y="431" width="3" height="3" fill="#fff"/>
<rect x="57" y="433" width="1" height="1" fill="#000"/>
<rect x="57" y="437" width="3" height="3" fill="#fff"/>
<rect x="57" y="437" width="1" height="1" fill="#000"/>
<rect x="57" y="442" width="3" height="3" fill="#fff"/>
<rect x="57" y="444" width="1" height="1" fill="#000"/>
<rect x="57" y="448" width="3" height="3" fill="#fff"/>
<rect x="57" y="448" width="1" height="1" fill="#000"/>
<rect x="57" y="454" width="3" height="3" fill="#fff"/>
<rect x="57" y="456" width="1" height="1" fill="#000"/>
<rect x="57" y="460" width="3" height="3" fill="#fff"/>
<rect x="57" y="460" width="1" height="1" fill="#000"/>
<rect x="57" y="466" width="3" height="3" fill="#fff"/>
<rect x="57" y="468" width="1" height="1" fill="#000"/>
<rect x="57" y="472" width="3" height="3" fill="#fff"/>
<rect x="57" y="472" width="1" height="1" fill="#000"/>
<rect x="57" y="477" width="3" height="3" fill="#fff"/>
<rect x="57" y="479" width="1" height="1" fill="#000"/>
<rect x="57" y="483" width="3" height="3" fill="#fff"/>
<rect x="57" y="483" width="1" height="1" fill="#000"/>
<rect x="57" y="489" width="3" height="3" fill="#fff"/>
<rect x="57" y="491" width="1" height="1" fill="#000"/>
<rect x="57" y="495" width="3" height="3" fill="#fff"/>
<rect x="57" y="495" width="1" height="1" fill="#000"/>
<rect x="57" y="501" width="3" height="3" fill="#fff"/>
<rect x="57" y="503" width="1" height="1" fill="#000"/>
<rect x="57" y="507" width="3" height="3" fill="#fff"/>
<rect x="57" y="507" width="1" height="1" fill="#000"/>
<rect x="63" y="425" width="3" height="3" fill="#fff"/>
<rect x="65" y="425" width="1" height="1" fill="#000"/>
<rect x="63" y="431" width="3" height="3" fill="#fff"/>
<rect x="63" y="437" width="3" height="3" fill="#fff"/>
<rect x="63" y="439" width="1" height="1" fill="#000"/>
<rect x="63" y="442" width="3" height="3" fill="#fff"/>
<rect x="65" y="442" width="1" height="1" fill="#000"/>
<rect x="63" y="448" width="3" height="3" fill="#fff"/>
<rect x="65" y="448" width="1" height="1" fill="#000"/>
<rect x="63" y="454" width="3" height="3" fill="#fff"/>
<rect x="63" y="460" width="3" height="3" fill="#fff"/>
<rect x="63" y="462" width="1" height="1" fill="#000"/>
<rect x="63" y="466" width="3" height="3" fill="#fff"/>
<rect x="65" y="466" width="1" height="1" fill="#000"/>
<rect x="63" y="472" width="3" height="3" fill="#fff"/>
<rect x="65" y="472" width="1" height="1" fill="#000"/>
<rect x="63" y="477" width="3" height="3" fill="#fff"/>
<rect x="63" y="483" width="3" height="3" fill="#fff"/>
<rect x="63" y="485" width="1" height="1" fill="#000"/>
<rect x="63" y="489" width="3" height="3" fill="#fff"/>
<rect x="65" y="489" width="1" height="1" fill="#000"/>
<rect x="63" y="495" width="3" height="3" fill="#fff"/>
<rect x="65" y="495" width="1" height="1" fill="#000"/>
<rect x="63" y="501" width="3" height="3" fill="#fff"/>
<rect x="63" y="507" width="3" height="3" fill="#fff"/>
<rect x="63" y="509" width="1" height="1" fill="#000"/>
<rect x="69" y="425" width="3" height="3" fill="#fff"/>
<rect x="71" y="427" width="1" height="1" fill="#000"/>
<rect x="69" y="431" width="3" height="3" fill="#fff"/>
<rect x="71" y="431" width="1" height="1" fill="#000"/>
<rect x="69" y="437" width="3" height="3" fill="#fff"/>
<rect x="71" y="439" width="1" height="1" fill="#000"/>
<rect x="69" y="442" width="3" height="3" fill="#fff"/>
<rect x="71" y="442" width="1" height="1" fill="#000"/>
<rect x="69" y="448" width="3" height="3" fill="#fff"/>
<rect x="71" y="450" width="1" height="1" fill="#000"/>
<rect x="69" y="454" width="3" height="3" fill="#fff"/>
<rect x="71" y="454" width="1" height="1" fill="#000"/>
<rect x="69" y="460" width="3" height="3" fill="#fff"/>
<rect x="71" y="462" width="1" height="1" fill="#000"/>
<rect x="69" y="466" width="3" height="3" fill="#fff"/>
<rect x="71" y="466" width="1" height="1" fill="#000"/>
<rect x="69" y="472" width="3" height="3" fill="#fff"/>
<rect x="71" y="474" width="1" height="1" fill="#000"/>
<rect x="69" y="477" width="3" height="3" fill="#fff"/>
<rect x="71" y="477" width="1" height="1" fill="#000"/>
<rect x="69" y="483" width="3" height="3" fill="#fff"/>
<rect x="71" y="485" width="1" height="1" fill="#000"/>
<rect x="69" y="489" width="3" height="3" fill="#fff"/>
<rect x="71" y="489" width="1" height="1" fill="#000"/>
<rect x="69" y="495" width="3" height="3" fill="#fff"/>
<rect x="71" y="497" width="1" height="1" fill="#000"/>
<rect x="69" y="501" width="3" height="3" fill="#fff"/>
<rect x="71" y="501" width="1" height="1" fill="#000"/>
<rect x="69" y="507" width="3" height="3" fill="#fff"/>
<rect x="71" y="509" width="1" height="1" fill="#000"/>
<rect x="75" y="425" width="3" height="3" fill="#fff"/>
<rect x="75" y="427" width="1" height="1" fill="#000"/>
<rect x="75" y="431" width="3" height="3" fill="#fff"/>
<rect x="75" y="433" width="1" height="1" fill="#000"/>
<rect x="75" y="437" width="3" height="3" fill="#fff"/>
<rect x="75" y="495" width="3" height="3" fill="#fff"/>
<rect x="75" y="497" width="1" height="1" fill="#000"/>
<rect x="75" y="501" width="3" height="3" fill="#fff"/>
<rect x="75" y="503" width="1" height="1" fill="#000"/>
<rect x="75" y="507" width="3" height="3" fill="#fff"/>
<rect x="80" y="425" width="3" height="3" fill="#fff"/>
<rect x="80" y="431" width="3" height="3" fill="#fff"/>
<rect x="82" y="431" width="1" height="1" fill="#000"/>
<rect x="80" y="437" width="3" height="3" fill="#fff"/>
<rect x="80" y="495" width="3" height="3" fill="#fff"/>
<rect x="80" y="501" width="3" height="3" fill="#fff"/>
<rect x="82" y="501" width="1" height="1" fill="#000"/>
<rect x="80" y="507" width="3" height="3" fill="#fff"/>
<rect x="86" y="425" width="3" height="3" fill="#fff"/>
<rect x="86" y="431" width="3" height="3" fill="#fff"/>
<rect x="86" y="433" width="1" height="1" fill="#000"/>
<rect x="86" y="437" width="3" height="3" fill="#fff"/>
<rect x="88" y="437" width="1" height="1" fill="#000"/>
<rect x="86" y="495" width="3" height="3" fill="#fff"/>
<rect x="86" y="501" width="3" height="3" fill="#fff"/>
<rect x="86" y="503" width="1" height="1" fill="#000"/>
<rect x="86" y="507" width="3" height="3" fill="#fff"/>
<rect x="88" y="507" width="1" height="1" fill="#000"/>
<rect x="92" y="425" width="3" height="3" fill="#fff"/>
<rect x="92" y="425" width="1" height="1" fill="#000"/>
<rect x="92" y="431" width="3" height="3" fill="#fff"/>
<rect x="92" y="437" width="3" height="3" fill="#fff"/>
<rect x="92" y="437" width="1" height="1" fill="#000"/>
<rect x="92" y="495" width="3" height="3" fill="#fff"/>
<rect x="92" y="495" width="1" height="1" fill="#000"/>
<rect x="92" y="501" width="3" height="3" fill="#fff"/>
<rect x="92" y="507" width="3" height="3" fill="#fff"/>
<rect x="92" y="507" width="1" height="1" fill="#000"/>
<rect x="98" y="425" width="3" height="3" fill="#fff"/>
<rect x="100" y="425" width="1" height="1" fill="#000"/>
<rect x="98" y="431" width="3" height="3" fill="#fff"/>
<rect x="100" y="431" width="1" height="1" fill="#000"/>
<rect x="98" y="437" width="3" height="3" fill="#fff"/>
<rect x="98" y="439" width="1" height="1" fill="#000"/>
<rect x="98" y="495" width="3" height="3" fill="#fff"/>
<rect x="100" y="495" width="1" height="1" fill="#000"/>
<rect x="98" y="501" width="3" height="3" fill="#fff"/>
<rect x="100" y="501" width="1" height="1" fill="#000"/>
<rect x="98" y="507" width="3" height="3" fill="#fff"/>
<rect x="98" y="509" width="1" height="1" fill="#000"/>
<rect x="104" y="425" width="3" height="3" fill="#fff"/>
<rect x="106" y="427" width="1" height="1" fill="#000"/>
<rect x="104" y="431" width="3" height="3" fill="#fff"/>
<rect x="104" y="437" width="3" height="3" fill="#fff"/>
<rect x="106" y="439" width="1" height="1" fill="#000"/>
<rect x="104" y="495" width="3" height="3" fill="#fff"/>
<rect x="106" y="497" width="1" height="1" fill="#000"/>
<rect x="104" y="501" width="3" height="3" fill="#fff"/>
<rect x="104" y="507" width="3" height="3" fill="#fff"/>
<rect x="106" y="509" width="1" height="1" fill="#000"/>
<rect x="110" y="425" width="3" height="3" fill="#fff"/>
<rect x="110" y="427" width="1" height="1" fill="#000"/>
<rect x="110" y="431" width="3" height="3" fill="#fff"/>
<rect x="112" y="431" width="1" height="1" fill="#000"/>
<rect x="110" y="437" width="3" height="3" fill="#fff"/>
<rect x="110" y="495" width="3" height="3" fill="#fff"/>
<rect x="110" y="497" width="1" height="1" fill="#000"/>
<rect x="110" y="501" width="3" height="3" fill="#fff"/>
<rect x="112" y="501" width="1" height="1" fill="#000"/>
<rect x="110" y="507" width="3" height="3" fill="#fff"/>
<rect x="116" y="425" width="3" height="3" fill="#fff"/>
<rect x="116" y="431" width="3" height="3" fill="#fff"/>
<rect x="116" y="433" width="1" height="1" fill="#000"/>
<rect x="116" y="437" width="3" height="3" fill="#fff"/>
<rect x="116" y="495" width="3" height="3" fill="#fff"/>
<rect x="116" y="501" width="3" height="3" fill="#fff"/>
<rect x="116" y="503" width="1" height="1" fill="#000"/>
<rect x="116" y="507" width="3" height="3" fill="#fff"/>
<rect x="122" y="425" width="3" height="3" fill="#fff"/>
<rect x="122" y="431" width="3" height="3" fill="#fff"/>
<rect x="122" y="437" width="3" height="3" fill="#fff"/>
<rect x="124" y="437" width="1" height="1" fill="#000"/>
<rect x="122" y="495" width="3" height="3" fill="#fff"/>
<rect x="122" y="501" width="3" height="3" fill="#fff"/>
<rect x="122" y="507" width="3" height="3" fill="#fff"/>
<rect x="124" y="507" width="1" height="1" fill="#000"/>
<rect x="127" y="425" width="3" height="3" fill="#fff"/>
<rect x="127" y="425" width="1" height="1" fill="#000"/>
<rect x="127" y="431" width="3" height="3" fill="#fff"/>
<rect x="127" y="433" width="1" height="1" fill="#000"/>
<rect x="127" y="437" width="3" height="3" fill="#fff"/>
<rect x="127" y="437" width="1" height="1" fill="#000"/>
<rect x="127" y="442" width="3" height="3" fill="#fff"/>
<rect x="127" y="444" width="1" height="1" fill="#000"/>
<rect x="127" y="448" width="3" height="3" fill="#fff"/>
<rect x="127" y="448" width="1" height="1" fill="#000"/>
<rect x="127" y="454" width="3" height="3" fill="#fff"/>
<rect x="127" y="456" width="1" height="1" fill="#000"/>
<rect x="127" y="460" width="3" height="3" fill="#fff"/>
<rect x="127" y="460" width="1" height="1" fill="#000"/>
<rect x="127" y="466" width="3" height="3" fill="#fff"/>
<rect x="127" y="468" width="1" height="1" fill="#000"/>
<rect x="127" y="472" width="3" height="3" fill="#fff"/>
<rect x="127" y="472" width="1" height="1" fill="#000"/>
<rect x="127" y="477" width="3" height="3" fill="#fff"/>
<rect x="127" y="479" width="1" height="1" fill="#000"/>
<rect x="127" y="483" width="3" height="3" fill="#fff"/>
<rect x="127" y="483" width="1" height="1" fill="#000"/>
<rect x="127" y="489" width="3" height="3" fill="#fff"/>
<rect x="127" y="491" width="1" height="1" fill="#000"/>
<rect x="127" y="495" width="3" height="3" fill="#fff"/>
<rect x="127" y="495" width="1" height="1" fill="#000"/>
<rect x="127" y="501" width="3" height="3" fill="#fff"/>
<rect x="127" y="503" width="1" height="1" fill="#000"/>
<rect x="127" y="507" width="3" height="3" fill="#fff"/>
<rect x="127" y="507" width="1" height="1" fill="#000"/>
<rect x="133" y="425" width="3" height="3" fill="#fff"/>
<rect x="135" y="425" width="1" height="1" fill="#000"/>
<rect x="133" y="431" width="3" height="3" fill="#fff"/>
<rect x="133" y="437" width="3" height="3" fill="#fff"/>
<rect x="133" y="439" width="1" height="1" fill="#000"/>
<rect x="133" y="442" width="3" height="3" fill="#fff"/>
<rect x="135" y="442" width="1" height="1" fill="#000"/>
<rect x="133" y="448" width="3" height="3" fill="#fff"/>
<rect x="135" y="448" width="1" height="1" fill="#000"/>
<rect x="133" y="454" width="3" height="3" fill="#fff"/>
<rect x="133" y="460" width="3" height="3" fill="#fff"/>
<rect x="133" y="462" width="1" height="1" fill="#000"/>
<rect x="133" y="466" width="3" height="3" fill="#fff"/>
<rect x="135" y="466" width="1" height="1" fill="#000"/>
<rect x="133" y="472" width="3" height="3" fill="#fff"/>
<rect x="135" y="472" width="1" height="1" fill="#000"/>
<rect x="133" y="477" width="3" height="3" fill="#fff"/>
<rect x="133" y="483" width="3" height="3" fill="#fff"/>
<rect x="133" y="485" width="1" height="1" fill="#000"/>
<rect x="133" y="489" width="3" height="3" fill="#fff"/>
<rect x="135" y="489" width="1" height="1" fill="#000"/>
<rect x="133" y="495" width="3" height="3" fill="#fff"/>
<rect x="135" y="495" width="1" height="1" fill="#000"/>
<rect x="133" y="501" width="3" height="3" fill="#fff"/>
<rect x="133" y="507" width="3" height="3" fill="#fff"/>
<rect x="133" y="509" width="1" height="1" fill="#000"/>
<rect x="139" y="425" width="3" height="3" fill="#fff"/>
<rect x="141" y="427" width="1" height="1" fill="#000"/>
<rect x="139" y="431" width="3" height="3" fill="#fff"/>
<rect x="141" y="431" width="1" height="1" fill="#000"/>
<rect x="139" y="437" width="3" height="3" fill="#fff"/>
<rect x="141" y="439" width="1" height="1" fill="#000"/>
<rect x="139" y="442" width="3" height="3" fill="#fff"/>
<rect x="141" y="442" width="1" height="1" fill="#000"/>
<rect x="139" y="448" width="3" height="3" fill="#fff"/>
<rect x="141" y="450" width="1" height="1" fill="#000"/>
<rect x="139" y="454" width="3" height="3" fill="#fff"/>
<rect x="141" y="454" width="1" height="1" fill="#000"/>
<rect x="139" y="460" width="3" height="3" fill="#fff"/>
<rect x="141" y="462" width="1" height="1" fill="#000"/>
<rect x="139" y="466" width="3" height="3" fill="#fff"/>
<rect x="141" y="466" width="1" height="1" fill="#000"/>
<rect x="139" y="472" width="3" height="3" fill="#fff"/>
<rect x="141" y="474" width="1" height="1" fill="#000"/>
<rect x="139" y="477" width="3" height="3" fill="#fff"/>
<rect x="141" y="477" width="1" height="1" fill="#000"/>
<rect x="139" y="483" width="3" height="3" fill="#fff"/>
<rect x="141" y="485" width="1" height="1" fill="#000"/>
<rect x="139" y="489" width="3" height="3" fill="#fff"/>
<rect x="141" y="489" width="1" height="1" fill="#000"/>
<rect x="139" y="495" width="3" height="3" fill="#fff"/>
<rect x="141" y="497" width="1" height="1" fill="#000"/>
<rect x="139" y="501" width="3" height="3" fill="#fff"/>
<rect x="141" y="501" width="1" height="1" fill="#000"/>
<rect x="139" y="507" width="3" height="3" fill="#fff"/>
<rect x="141" y="509" width="1" height="1" fill="#000"/>
<rect x="76" y="444.8" width="46.3" height="46" fill="#fff"/>
<circle cx="118.7" cy="486" r="2.1" fill="#000" shape-rendering="geometricPrecision"/>
<path d="M84,461.6 L84.6,460.2 L86,459.6 L112,459.6 L113.4,460.2 L114,461.6 L114,474 L113.4,475.4 L112,476 L86,476 L84.6,475.4 L84,474 Z" transform="translate(0,-0.8)" fill="#000" stroke="#000" stroke-width="2" stroke-linejoin="round"/>
<path d="M84,461.6 L84.6,460.2 L86,459.6 L112,459.6 L113.4,460.2 L114,461.6 L114,474 L113.4,475.4 L112,476 L86,476 L84.6,475.4 L84,474 Z" fill="#fff" stroke="#000" stroke-width="2" stroke-linejoin="round"/>
<path d="M 87.5,471.5 L 87.5,462.5 L 92.5,471.5 L 92.5,462.5" fill="none" stroke="#000" stroke-width="1" stroke-linecap="square" stroke-linejoin="round"/>
<path d="M 97.5,471.5 L 97.5,462.5 L 99.5,462.5 Q 101.5,462.5 101.5,464.5 Q 101.5,467.5 99.5,467.5 L 97.5,467.5" fill="none" stroke="#000" stroke-width="1" stroke-linecap="square" stroke-linejoin="round"/>
<path d="M 105.5,462.5 L 105.5,468.5 Q 105.5,471.5 108.5,471.5 Q 110.5,471.5 110.5,468.5 L 110.5,462.5" fill="none" stroke="#000" stroke-width="1" stroke-linecap="square" stroke-linejoin="round"/>
<path d="M180,368.8 L236.7,368.8 L236.7,371.6 L243,371.6 L243,430.9 L240.5,430.9 L240.5,432.9 L238.9,432.9 L238.9,435.2 L183.3,435.2 L183.3,432.5 L179.1,432.5 L179.1,430.7 L176.8,430.7 L176.8,374.3 L178.6,374.3 L178.6,371.4 L180,371.4 Z" fill="#000" stroke="none" stroke-width="1"/>
<rect x="188" y="368.8" width="0.9" height="2.4" fill="#fff"/>
<rect x="190.8" y="368.8" width="0.9" height="2.4" fill="#fff"/>
<rect x="193.6" y="368.8" width="0.9" height="2.4" fill="#fff"/>
<rect x="196.4" y="368.8" width="0.9" height="2.4" fill="#fff"/>
<rect x="205.1" y="368.8" width="0.9" height="2.4" fill="#fff"/>
<rect x="207.8" y="368.8" width="0.9" height="2.4" fill="#fff"/>
<rect x="210.6" y="368.8" width="0.9" height="2.4" fill="#fff"/>
<rect x="222" y="368.8" width="0.9" height="2.4" fill="#fff"/>
<rect x="224.8" y="368.8" width="0.9" height="2.4" fill="#fff"/>
<rect x="227.6" y="368.8" width="0.9" height="2.4" fill="#fff"/>
<rect x="183.6" y="432.6" width="0.9" height="2.6" fill="#fff"/>
<rect x="186" y="432.6" width="0.9" height="2.6" fill="#fff"/>
<rect x="193.8" y="432.6" width="0.9" height="2.6" fill="#fff"/>
<rect x="196.4" y="432.6" width="0.9" height="2.6" fill="#fff"/>
<rect x="199.1" y="432.6" width="0.9" height="2.6" fill="#fff"/>
<rect x="201.8" y="432.6" width="0.9" height="2.6" fill="#fff"/>
<rect x="210.6" y="432.6" width="0.9" height="2.6" fill="#fff"/>
<rect x="213.2" y="432.6" width="0.9" height="2.6" fill="#fff"/>
<rect x="216" y="432.6" width="0.9" height="2.6" fill="#fff"/>
<rect x="227.3" y="432.6" width="0.9" height="2.6" fill="#fff"/>
<rect x="230.1" y="432.6" width="0.9" height="2.6" fill="#fff"/>
<rect x="233" y="432.6" width="0.9" height="2.6" fill="#fff"/>
<rect x="176.8" y="374.8" width="2" height="0.9" fill="#fff"/>
<rect x="176.8" y="377.4" width="2" height="0.9" fill="#fff"/>
<rect x="176.8" y="380.2" width="2" height="0.9" fill="#fff"/>
<rect x="176.8" y="394" width="2" height="0.9" fill="#fff"/>
<rect x="176.8" y="396.8" width="2" height="0.9" fill="#fff"/>
<rect x="176.8" y="399.6" width="2" height="0.9" fill="#fff"/>
<rect x="176.8" y="411" width="2" height="0.9" fill="#fff"/>
<rect x="176.8" y="413.8" width="2" height="0.9" fill="#fff"/>
<rect x="176.8" y="416.6" width="2" height="0.9" fill="#fff"/>
<rect x="240.6" y="380.1" width="2.6" height="0.9" fill="#fff"/>
<rect x="240.6" y="382.8" width="2.6" height="0.9" fill="#fff"/>
<rect x="240.6" y="385.6" width="2.6" height="0.9" fill="#fff"/>
<rect x="240.6" y="388.4" width="2.6" height="0.9" fill="#fff"/>
<rect x="240.6" y="399.8" width="2.6" height="0.9" fill="#fff"/>
<rect x="240.6" y="402.6" width="2.6" height="0.9" fill="#fff"/>
<rect x="240.6" y="405.4" width="2.6" height="0.9" fill="#fff"/>
<rect x="240.6" y="416.8" width="2.6" height="0.9" fill="#fff"/>
<rect x="240.6" y="419.6" width="2.6" height="0.9" fill="#fff"/>
<rect x="240.6" y="422.4" width="2.6" height="0.9" fill="#fff"/>
<rect x="240.6" y="425.2" width="2.6" height="0.9" fill="#fff"/>
<rect x="231" y="423" width="4" height="4" fill="#fff"/>
<path d="M312,151.6 L368.7,151.6 L368.7,154.4 L375,154.4 L375,213.7 L372.5,213.7 L372.5,215.7 L370.9,215.7 L370.9,218 L315.3,218 L315.3,215.3 L311.1,215.3 L311.1,213.5 L308.8,213.5 L308.8,157.1 L310.6,157.1 L310.6,154.2 L312,154.2 Z" fill="#000" stroke="none" stroke-width="1"/>
<rect x="320" y="151.6" width="0.9" height="2.4" fill="#fff"/>
<rect x="322.8" y="151.6" width="0.9" height="2.4" fill="#fff"/>
<rect x="325.6" y="151.6" width="0.9" height="2.4" fill="#fff"/>
<rect x="328.4" y="151.6" width="0.9" height="2.4" fill="#fff"/>
<rect x="337.1" y="151.6" width="0.9" height="2.4" fill="#fff"/>
<rect x="339.8" y="151.6" width="0.9" height="2.4" fill="#fff"/>
<rect x="342.6" y="151.6" width="0.9" height="2.4" fill="#fff"/>
<rect x="354" y="151.6" width="0.9" height="2.4" fill="#fff"/>
<rect x="356.8" y="151.6" width="0.9" height="2.4" fill="#fff"/>
<rect x="359.6" y="151.6" width="0.9" height="2.4" fill="#fff"/>
<rect x="315.6" y="215.4" width="0.9" height="2.6" fill="#fff"/>
<rect x="318" y="215.4" width="0.9" height="2.6" fill="#fff"/>
<rect x="325.8" y="215.4" width="0.9" height="2.6" fill="#fff"/>
<rect x="328.4" y="215.4" width="0.9" height="2.6" fill="#fff"/>
<rect x="331.1" y="215.4" width="0.9" height="2.6" fill="#fff"/>
<rect x="333.8" y="215.4" width="0.9" height="2.6" fill="#fff"/>
<rect x="342.6" y="215.4" width="0.9" height="2.6" fill="#fff"/>
<rect x="345.2" y="215.4" width="0.9" height="2.6" fill="#fff"/>
<rect x="348" y="215.4" width="0.9" height="2.6" fill="#fff"/>
<rect x="359.3" y="215.4" width="0.9" height="2.6" fill="#fff"/>
<rect x="362.1" y="215.4" width="0.9" height="2.6" fill="#fff"/>
<rect x="365" y="215.4" width="0.9" height="2.6" fill="#fff"/>
<rect x="308.8" y="157.6" width="2" height="0.9" fill="#fff"/>
<rect x="308.8" y="160.2" width="2" height="0.9" fill="#fff"/>
<rect x="308.8" y="163" width="2" height="0.9" fill="#fff"/>
<rect x="308.8" y="176.8" width="2" height="0.9" fill="#fff"/>
<rect x="308.8" y="179.6" width="2" height="0.9" fill="#fff"/>
<rect x="308.8" y="182.4" width="2" height="0.9" fill="#fff"/>
<rect x="308.8" y="193.8" width="2" height="0.9" fill="#fff"/>
<rect x="308.8" y="196.6" width="2" height="0.9" fill="#fff"/>
<rect x="308.8" y="199.4" width="2" height="0.9" fill="#fff"/>
<rect x="372.6" y="162.9" width="2.6" height="0.9" fill="#fff"/>
<rect x="372.6" y="165.6" width="2.6" height="0.9" fill="#fff"/>
<rect x="372.6" y="168.4" width="2.6" height="0.9" fill="#fff"/>
<rect x="372.6" y="171.2" width="2.6" height="0.9" fill="#fff"/>
<rect x="372.6" y="182.6" width="2.6" height="0.9" fill="#fff"/>
<rect x="372.6" y="185.4" width="2.6" height="0.9" fill="#fff"/>
<rect x="372.6" y="188.2" width="2.6" height="0.9" fill="#fff"/>
<rect x="372.6" y="199.6" width="2.6" height="0.9" fill="#fff"/>
<rect x="372.6" y="202.4" width="2.6" height="0.9" fill="#fff"/>
<rect x="372.6" y="205.2" width="2.6" height="0.9" fill="#fff"/>
<rect x="372.6" y="208" width="2.6" height="0.9" fill="#fff"/>
<rect x="363" y="206" width="4" height="4" fill="#fff"/>
<rect x="312" y="259" width="19" height="6" fill="#000"/>
<rect x="317" y="260" width="2" height="4" fill="#fff"/>
<rect x="323" y="260" width="2.3" height="4" fill="#fff"/>
<rect x="326.5" y="260" width="3.5" height="4" fill="#fff"/>
<rect x="327.6" y="261.2" width="1.4" height="1.6" fill="#000"/>
<path d="M330,278.3 L322.3,268.2 L333.4,274.9 L360,274.9 L361.4,275.5 L362,276.9 L362,289.2 L361.4,290.6 L360,291.2 L332,291.2 L330.6,290.6 L330,289.2 Z" transform="translate(-0.8,0.8)" fill="#000" stroke="#000" stroke-width="2" stroke-linejoin="round"/>
<path d="M330,278.3 L322.3,268.2 L333.4,274.9 L360,274.9 L361.4,275.5 L362,276.9 L362,289.2 L361.4,290.6 L360,291.2 L332,291.2 L330.6,290.6 L330,289.2 Z" fill="#fff" stroke="#000" stroke-width="2" stroke-linejoin="round"/>
<path d="M 336.5,277.5 L 336.5,284.5 Q 336.5,286.5 334.5,286.5 Q 333.5,286.5 333.5,284.5" fill="none" stroke="#000" stroke-width="1" stroke-linecap="square" stroke-linejoin="round"/>
<path d="M 341.5,286.5 L 341.5,277.5 L 343.5,277.5 Q 345.5,277.5 345.5,279.5 Q 345.5,282.5 343.5,282.5 L 341.5,282.5" fill="none" stroke="#000" stroke-width="1" stroke-linecap="square" stroke-linejoin="round"/>
<path d="M 349.5,279.5 Q 350.5,277.5 351.5,277.5 Q 354.5,277.5 354.5,279.5 Q 354.5,281.5 351.5,281.5 Q 354.5,281.5 354.5,283.5 Q 354.5,286.5 351.5,286.5 Q 350.5,286.5 349.5,284.5" fill="none" stroke="#000" stroke-width="1" stroke-linecap="square" stroke-linejoin="round"/>
<rect x="396" y="15" width="128" height="20" fill="#000"/>
<rect x="404" y="21.8" width="112" height="6.4" fill="#fff"/>
<rect x="396" y="60" width="128" height="20" fill="#000"/>
<rect x="404" y="66.8" width="112" height="6.4" fill="#fff"/>
<rect x="396" y="104" width="128" height="20" fill="#000"/>
<rect x="404" y="110.8" width="112" height="6.4" fill="#fff"/>
<rect x="396" y="148" width="128" height="20" fill="#000"/>
<rect x="404" y="154.8" width="112" height="6.4" fill="#fff"/>
<rect x="396" y="191" width="128" height="20" fill="#000"/>
<rect x="404" y="197.8" width="112" height="6.4" fill="#fff"/>
<rect x="396" y="236" width="128" height="20" fill="#000"/>
<rect x="404" y="242.8" width="112" height="6.4" fill="#fff"/>
<rect x="534" y="15" width="202" height="20" fill="#000"/>
<rect x="542" y="21.8" width="186" height="6.4" fill="#fff"/>
<rect x="534" y="59.5" width="202" height="20" fill="#000"/>
<rect x="542" y="66.3" width="186" height="6.4" fill="#fff"/>
<rect x="534" y="104" width="202" height="20" fill="#000"/>
<rect x="542" y="110.8" width="186" height="6.4" fill="#fff"/>
<rect x="534" y="148" width="202" height="20" fill="#000"/>
<rect x="542" y="154.8" width="186" height="6.4" fill="#fff"/>
<rect x="534" y="191" width="202" height="20" fill="#000"/>
<rect x="542" y="197.8" width="186" height="6.4" fill="#fff"/>
<rect x="534" y="236" width="202" height="20" fill="#000"/>
<rect x="542" y="242.8" width="186" height="6.4" fill="#fff"/>
<rect x="534" y="280" width="202" height="20" fill="#000"/>
<rect x="542" y="286.8" width="186" height="6.4" fill="#fff"/>
<rect x="534" y="325" width="202" height="20" fill="#000"/>
<rect x="542" y="331.8" width="186" height="6.4" fill="#fff"/>
<path d="M 614.5,51.5 L 614.5,43.5 L 616.5,48.5 L 619.5,43.5 L 619.5,51.5" fill="none" stroke="#000" stroke-width="1" stroke-linecap="square" stroke-linejoin="round"/>
<path d="M 623.5,43.5 L 623.5,51.5 M 628.5,43.5 L 628.5,51.5 M 623.5,47.5 L 628.5,47.5" fill="none" stroke="#000" stroke-width="1" stroke-linecap="square" stroke-linejoin="round"/>
<path d="M 633.5,43.5 Q 631.5,43.5 631.5,46.5 L 631.5,48.5 Q 631.5,51.5 633.5,51.5 Q 635.5,51.5 635.5,48.5 L 635.5,46.5 Q 635.5,43.5 633.5,43.5 Z" fill="none" stroke="#000" stroke-width="1" stroke-linecap="square" stroke-linejoin="round"/>
<path d="M 637.5,45.5 L 639.5,43.5 L 639.5,51.5" fill="none" stroke="#000" stroke-width="1" stroke-linecap="square" stroke-linejoin="round"/>
<path d="M 647.5,51.5 L 647.5,43.5 L 644.5,49.5 L 648.5,49.5" fill="none" stroke="#000" stroke-width="1" stroke-linecap="square" stroke-linejoin="round"/>
<path d="M 654.5,51.5 L 654.5,43.5 L 651.5,49.5 L 655.5,49.5" fill="none" stroke="#000" stroke-width="1" stroke-linecap="square" stroke-linejoin="round"/>
<rect x="614" y="44" width="1.6" height="7.9" fill="#000"/>
<rect x="431" y="264" width="88.3" height="40.8" fill="#000"/>
<rect x="517.3" y="279" width="2" height="11.8" fill="#fff"/>
<rect x="517.2" y="266.3" width="1" height="4.7" fill="#fff"/>
<rect x="455" y="277.8" width="40" height="14.2" fill="#fff" rx="1"/>
<path d="M 461.5,280.5 L 461.5,288.5 M 461.5,280.5 L 464.5,280.5 Q 465.5,280.5 465.5,282.5 Q 465.5,283.5 464.5,283.5 L 461.5,283.5 M 464.5,283.5 Q 465.5,283.5 465.5,286.5 Q 465.5,288.5 464.5,288.5 L 461.5,288.5" fill="none" stroke="#000" stroke-width="1" stroke-linecap="square" stroke-linejoin="round"/>
<path d="M 470.5,280.5 L 470.5,288.5" fill="none" stroke="#000" stroke-width="1" stroke-linecap="square" stroke-linejoin="round"/>
<path d="M 477.5,280.5 Q 475.5,280.5 475.5,282.5 L 475.5,285.5 Q 475.5,288.5 477.5,288.5 Q 480.5,288.5 480.5,285.5 L 480.5,282.5 Q 480.5,280.5 477.5,280.5 Z" fill="none" stroke="#000" stroke-width="1" stroke-linecap="square" stroke-linejoin="round"/>
<path d="M 489.5,281.5 Q 489.5,280.5 487.5,280.5 Q 484.5,280.5 484.5,282.5 Q 484.5,283.5 487.5,284.5 Q 489.5,284.5 489.5,286.5 Q 489.5,288.5 487.5,288.5 Q 484.5,288.5 484.5,286.5" fill="none" stroke="#000" stroke-width="1" stroke-linecap="square" stroke-linejoin="round"/>
<rect x="296.3" y="338.5" width="225.7" height="1" fill="#000"/>
<rect x="322" y="341.1" width="174.8" height="13.6" fill="#000"/>
<rect x="325" y="343.1" width="4" height="4.8" fill="#fff"/>
<rect x="326.6" y="350.1" width="1.2" height="3.8" fill="#fff"/>
<rect x="329.4" y="341.1" width="1.1" height="0.9" fill="#fff"/>
<rect x="330.89" y="343.1" width="4" height="4.8" fill="#fff"/>
<rect x="332.49" y="350.1" width="1.2" height="3.8" fill="#fff"/>
<rect x="335.29" y="341.1" width="1.1" height="0.9" fill="#fff"/>
<rect x="336.79" y="343.1" width="4" height="4.8" fill="#fff"/>
<rect x="338.39" y="350.1" width="1.2" height="3.8" fill="#fff"/>
<rect x="341.19" y="341.1" width="1.1" height="0.9" fill="#fff"/>
<rect x="342.68" y="343.1" width="4" height="4.8" fill="#fff"/>
<rect x="344.28" y="350.1" width="1.2" height="3.8" fill="#fff"/>
<rect x="344.28" y="347.9" width="1.2" height="2.2" fill="#fff"/>
<rect x="347.08" y="341.1" width="1.1" height="0.9" fill="#fff"/>
<rect x="348.57" y="343.1" width="4" height="4.8" fill="#fff"/>
<rect x="350.17" y="350.1" width="1.2" height="3.8" fill="#fff"/>
<rect x="352.97" y="341.1" width="1.1" height="0.9" fill="#fff"/>
<rect x="354.46" y="343.1" width="4" height="4.8" fill="#fff"/>
<rect x="356.06" y="350.1" width="1.2" height="3.8" fill="#fff"/>
<rect x="358.86" y="341.1" width="1.1" height="0.9" fill="#fff"/>
<rect x="360.36" y="343.1" width="4" height="4.8" fill="#fff"/>
<rect x="361.96" y="350.1" width="1.2" height="3.8" fill="#fff"/>
<rect x="364.76" y="341.1" width="1.1" height="0.9" fill="#fff"/>
<rect x="366.25" y="343.1" width="4" height="4.8" fill="#fff"/>
<rect x="367.85" y="350.1" width="1.2" height="3.8" fill="#fff"/>
<rect x="370.65" y="341.1" width="1.1" height="0.9" fill="#fff"/>
<rect x="372.14" y="343.1" width="4" height="4.8" fill="#fff"/>
<rect x="373.74" y="350.1" width="1.2" height="3.8" fill="#fff"/>
<rect x="376.54" y="341.1" width="1.1" height="0.9" fill="#fff"/>
<rect x="378.04" y="343.1" width="4" height="4.8" fill="#fff"/>
<rect x="379.64" y="350.1" width="1.2" height="3.8" fill="#fff"/>
<rect x="382.44" y="341.1" width="1.1" height="0.9" fill="#fff"/>
<rect x="383.93" y="343.1" width="4" height="4.8" fill="#fff"/>
<rect x="385.53" y="350.1" width="1.2" height="3.8" fill="#fff"/>
<rect x="388.33" y="341.1" width="1.1" height="0.9" fill="#fff"/>
<rect x="389.82" y="343.1" width="4" height="4.8" fill="#fff"/>
<rect x="391.42" y="350.1" width="1.2" height="3.8" fill="#fff"/>
<rect x="391.42" y="347.9" width="1.2" height="2.2" fill="#fff"/>
<rect x="394.22" y="341.1" width="1.1" height="0.9" fill="#fff"/>
<rect x="395.72" y="343.1" width="4" height="4.8" fill="#fff"/>
<rect x="397.32" y="350.1" width="1.2" height="3.8" fill="#fff"/>
<rect x="400.12" y="341.1" width="1.1" height="0.9" fill="#fff"/>
<rect x="401.61" y="343.1" width="4" height="4.8" fill="#fff"/>
<rect x="403.21" y="350.1" width="1.2" height="3.8" fill="#fff"/>
<rect x="406.01" y="341.1" width="1.1" height="0.9" fill="#fff"/>
<rect x="407.5" y="343.1" width="4" height="4.8" fill="#fff"/>
<rect x="409.1" y="350.1" width="1.2" height="3.8" fill="#fff"/>
<rect x="411.9" y="341.1" width="1.1" height="0.9" fill="#fff"/>
<rect x="413.39" y="343.1" width="4" height="4.8" fill="#fff"/>
<rect x="415" y="350.1" width="1.2" height="3.8" fill="#fff"/>
<rect x="417.79" y="341.1" width="1.1" height="0.9" fill="#fff"/>
<rect x="419.29" y="343.1" width="4" height="4.8" fill="#fff"/>
<rect x="420.89" y="350.1" width="1.2" height="3.8" fill="#fff"/>
<rect x="423.69" y="341.1" width="1.1" height="0.9" fill="#fff"/>
<rect x="425.18" y="343.1" width="4" height="4.8" fill="#fff"/>
<rect x="426.78" y="350.1" width="1.2" height="3.8" fill="#fff"/>
<rect x="426.78" y="347.9" width="1.2" height="2.2" fill="#fff"/>
<rect x="429.58" y="341.1" width="1.1" height="0.9" fill="#fff"/>
<rect x="431.07" y="343.1" width="4" height="4.8" fill="#fff"/>
<rect x="432.67" y="350.1" width="1.2" height="3.8" fill="#fff"/>
<rect x="435.47" y="341.1" width="1.1" height="0.9" fill="#fff"/>
<rect x="436.97" y="343.1" width="4" height="4.8" fill="#fff"/>
<rect x="438.57" y="350.1" width="1.2" height="3.8" fill="#fff"/>
<rect x="441.37" y="341.1" width="1.1" height="0.9" fill="#fff"/>
<rect x="442.86" y="343.1" width="4" height="4.8" fill="#fff"/>
<rect x="444.46" y="350.1" width="1.2" height="3.8" fill="#fff"/>
<rect x="447.26" y="341.1" width="1.1" height="0.9" fill="#fff"/>
<rect x="448.75" y="343.1" width="4" height="4.8" fill="#fff"/>
<rect x="450.35" y="350.1" width="1.2" height="3.8" fill="#fff"/>
<rect x="453.15" y="341.1" width="1.1" height="0.9" fill="#fff"/>
<rect x="454.65" y="343.1" width="4" height="4.8" fill="#fff"/>
<rect x="456.25" y="350.1" width="1.2" height="3.8" fill="#fff"/>
<rect x="459.05" y="341.1" width="1.1" height="0.9" fill="#fff"/>
<rect x="460.54" y="343.1" width="4" height="4.8" fill="#fff"/>
<rect x="462.14" y="350.1" width="1.2" height="3.8" fill="#fff"/>
<rect x="462.14" y="347.9" width="1.2" height="2.2" fill="#fff"/>
<rect x="464.94" y="341.1" width="1.1" height="0.9" fill="#fff"/>
<rect x="466.43" y="343.1" width="4" height="4.8" fill="#fff"/>
<rect x="468.03" y="350.1" width="1.2" height="3.8" fill="#fff"/>
<rect x="470.83" y="341.1" width="1.1" height="0.9" fill="#fff"/>
<rect x="472.32" y="343.1" width="4" height="4.8" fill="#fff"/>
<rect x="473.93" y="350.1" width="1.2" height="3.8" fill="#fff"/>
<rect x="476.72" y="341.1" width="1.1" height="0.9" fill="#fff"/>
<rect x="478.22" y="343.1" width="4" height="4.8" fill="#fff"/>
<rect x="479.82" y="350.1" width="1.2" height="3.8" fill="#fff"/>
<rect x="482.62" y="341.1" width="1.1" height="0.9" fill="#fff"/>
<rect x="484.11" y="343.1" width="4" height="4.8" fill="#fff"/>
<rect x="485.71" y="350.1" width="1.2" height="3.8" fill="#fff"/>
<rect x="488.51" y="341.1" width="1.1" height="0.9" fill="#fff"/>
<rect x="490" y="343.1" width="4" height="4.8" fill="#fff"/>
<rect x="491.6" y="350.1" width="1.2" height="3.8" fill="#fff"/>
<rect x="494.4" y="341.1" width="1.1" height="0.9" fill="#fff"/>
<rect x="322" y="341.1" width="1" height="0.9" fill="#fff"/>
<rect x="322" y="365.3" width="174.8" height="13.6" fill="#000"/>
<rect x="325" y="367.3" width="4" height="4.8" fill="#fff"/>
<rect x="326.6" y="374.3" width="1.2" height="3.8" fill="#fff"/>
<rect x="330.89" y="367.3" width="4" height="4.8" fill="#fff"/>
<rect x="332.49" y="374.3" width="1.2" height="3.8" fill="#fff"/>
<rect x="336.79" y="367.3" width="4" height="4.8" fill="#fff"/>
<rect x="338.39" y="374.3" width="1.2" height="3.8" fill="#fff"/>
<rect x="342.68" y="367.3" width="4" height="4.8" fill="#fff"/>
<rect x="344.28" y="374.3" width="1.2" height="3.8" fill="#fff"/>
<rect x="344.28" y="372.1" width="1.2" height="2.2" fill="#fff"/>
<rect x="348.57" y="367.3" width="4" height="4.8" fill="#fff"/>
<rect x="350.17" y="374.3" width="1.2" height="3.8" fill="#fff"/>
<rect x="354.46" y="367.3" width="4" height="4.8" fill="#fff"/>
<rect x="356.06" y="374.3" width="1.2" height="3.8" fill="#fff"/>
<rect x="360.36" y="367.3" width="4" height="4.8" fill="#fff"/>
<rect x="361.96" y="374.3" width="1.2" height="3.8" fill="#fff"/>
<rect x="366.25" y="367.3" width="4" height="4.8" fill="#fff"/>
<rect x="367.85" y="374.3" width="1.2" height="3.8" fill="#fff"/>
<rect x="372.14" y="367.3" width="4" height="4.8" fill="#fff"/>
<rect x="373.74" y="374.3" width="1.2" height="3.8" fill="#fff"/>
<rect x="378.04" y="367.3" width="4" height="4.8" fill="#fff"/>
<rect x="379.64" y="374.3" width="1.2" height="3.8" fill="#fff"/>
<rect x="383.93" y="367.3" width="4" height="4.8" fill="#fff"/>
<rect x="385.53" y="374.3" width="1.2" height="3.8" fill="#fff"/>
<rect x="389.82" y="367.3" width="4" height="4.8" fill="#fff"/>
<rect x="391.42" y="374.3" width="1.2" height="3.8" fill="#fff"/>
<rect x="391.42" y="372.1" width="1.2" height="2.2" fill="#fff"/>
<rect x="395.72" y="367.3" width="4" height="4.8" fill="#fff"/>
<rect x="397.32" y="374.3" width="1.2" height="3.8" fill="#fff"/>
<rect x="401.61" y="367.3" width="4" height="4.8" fill="#fff"/>
<rect x="403.21" y="374.3" width="1.2" height="3.8" fill="#fff"/>
<rect x="407.5" y="367.3" width="4" height="4.8" fill="#fff"/>
<rect x="409.1" y="374.3" width="1.2" height="3.8" fill="#fff"/>
<rect x="413.39" y="367.3" width="4" height="4.8" fill="#fff"/>
<rect x="415" y="374.3" width="1.2" height="3.8" fill="#fff"/>
<rect x="419.29" y="367.3" width="4" height="4.8" fill="#fff"/>
<rect x="420.89" y="374.3" width="1.2" height="3.8" fill="#fff"/>
<rect x="425.18" y="367.3" width="4" height="4.8" fill="#fff"/>
<rect x="426.78" y="374.3" width="1.2" height="3.8" fill="#fff"/>
<rect x="426.78" y="372.1" width="1.2" height="2.2" fill="#fff"/>
<rect x="431.07" y="367.3" width="4" height="4.8" fill="#fff"/>
<rect x="432.67" y="374.3" width="1.2" height="3.8" fill="#fff"/>
<rect x="436.97" y="367.3" width="4" height="4.8" fill="#fff"/>
<rect x="438.57" y="374.3" width="1.2" height="3.8" fill="#fff"/>
<rect x="442.86" y="367.3" width="4" height="4.8" fill="#fff"/>
<rect x="444.46" y="374.3" width="1.2" height="3.8" fill="#fff"/>
<rect x="448.75" y="367.3" width="4" height="4.8" fill="#fff"/>
<rect x="450.35" y="374.3" width="1.2" height="3.8" fill="#fff"/>
<rect x="454.65" y="367.3" width="4" height="4.8" fill="#fff"/>
<rect x="456.25" y="374.3" width="1.2" height="3.8" fill="#fff"/>
<rect x="460.54" y="367.3" width="4" height="4.8" fill="#fff"/>
<rect x="462.14" y="374.3" width="1.2" height="3.8" fill="#fff"/>
<rect x="462.14" y="372.1" width="1.2" height="2.2" fill="#fff"/>
<rect x="466.43" y="367.3" width="4" height="4.8" fill="#fff"/>
<rect x="468.03" y="374.3" width="1.2" height="3.8" fill="#fff"/>
<rect x="472.32" y="367.3" width="4" height="4.8" fill="#fff"/>
<rect x="473.93" y="374.3" width="1.2" height="3.8" fill="#fff"/>
<rect x="478.22" y="367.3" width="4" height="4.8" fill="#fff"/>
<rect x="479.82" y="374.3" width="1.2" height="3.8" fill="#fff"/>
<rect x="484.11" y="367.3" width="4" height="4.8" fill="#fff"/>
<rect x="485.71" y="374.3" width="1.2" height="3.8" fill="#fff"/>
<rect x="490" y="367.3" width="4" height="4.8" fill="#fff"/>
<rect x="491.6" y="374.3" width="1.2" height="3.8" fill="#fff"/>
<rect x="322.5" y="357.7" width="29.4" height="5.4" fill="#fff" stroke="#000" stroke-width="1"/>
<rect x="359.1" y="357.7" width="29.4" height="5.4" fill="#fff" stroke="#000" stroke-width="1"/>
<rect x="395.7" y="357.7" width="29.4" height="5.4" fill="#fff" stroke="#000" stroke-width="1"/>
<rect x="432.3" y="357.7" width="29.4" height="5.4" fill="#fff" stroke="#000" stroke-width="1"/>
<rect x="468.9" y="357.7" width="29.4" height="5.4" fill="#fff" stroke="#000" stroke-width="1"/>
<rect x="305" y="357.7" width="13.1" height="5.4" fill="#fff" stroke="#000" stroke-width="1"/>
<rect x="501.8" y="357.7" width="14.5" height="5.4" fill="#fff" stroke="#000" stroke-width="1"/>
<rect x="304" y="338.8" width="3.7" height="16.8" fill="#000"/>
<rect x="304" y="363.6" width="3.7" height="16.95" fill="#000"/>
<rect x="510.8" y="338.8" width="3.8" height="16.8" fill="#000"/>
<rect x="510.8" y="363.6" width="3.8" height="16.95" fill="#000"/>
<path d="M307.7,341.9 H317.4 V351.4 H314.3" fill="none" stroke="#000" stroke-width="1"/>
<path d="M307.7,350.1 H310.5 V348.5 H314.3 V355.3 H307.7" fill="none" stroke="#000" stroke-width="1"/>
<path d="M307.7,366.4 H317.4 V375.9 H314.3" fill="none" stroke="#000" stroke-width="1"/>
<path d="M307.7,374.6 H310.5 V373 H314.3 V379.8 H307.7" fill="none" stroke="#000" stroke-width="1"/>
<path d="M510.8,341.9 H501.1 V351.4 H504.2" fill="none" stroke="#000" stroke-width="1"/>
<path d="M510.8,350.1 H508 V348.5 H504.2 V355.3 H510.8" fill="none" stroke="#000" stroke-width="1"/>
<path d="M510.8,366.4 H501.1 V375.9 H504.2" fill="none" stroke="#000" stroke-width="1"/>
<path d="M510.8,374.6 H508 V373 H504.2 V379.8 H510.8" fill="none" stroke="#000" stroke-width="1"/>
<rect x="296.3" y="342.6" width="7.7" height="1" fill="#000"/>
<rect x="514.6" y="342.6" width="7.4" height="1" fill="#000"/>
<rect x="296.3" y="349.2" width="7.7" height="1" fill="#000"/>
<rect x="514.6" y="349.2" width="7.4" height="1" fill="#000"/>
<rect x="296.3" y="366.5" width="7.7" height="1" fill="#000"/>
<rect x="514.6" y="366.5" width="7.4" height="1" fill="#000"/>
<rect x="296.3" y="373.2" width="7.7" height="1" fill="#000"/>
<rect x="514.6" y="373.2" width="7.4" height="1" fill="#000"/>
<rect x="296.3" y="380.25" width="225.7" height="1" fill="#000"/>
<rect x="322" y="382.85" width="174.8" height="13.6" fill="#000"/>
<rect x="325" y="384.85" width="4" height="4.8" fill="#fff"/>
<rect x="326.6" y="391.85" width="1.2" height="3.8" fill="#fff"/>
<rect x="329.4" y="382.85" width="1.1" height="0.9" fill="#fff"/>
<rect x="330.89" y="384.85" width="4" height="4.8" fill="#fff"/>
<rect x="332.49" y="391.85" width="1.2" height="3.8" fill="#fff"/>
<rect x="335.29" y="382.85" width="1.1" height="0.9" fill="#fff"/>
<rect x="336.79" y="384.85" width="4" height="4.8" fill="#fff"/>
<rect x="338.39" y="391.85" width="1.2" height="3.8" fill="#fff"/>
<rect x="341.19" y="382.85" width="1.1" height="0.9" fill="#fff"/>
<rect x="342.68" y="384.85" width="4" height="4.8" fill="#fff"/>
<rect x="344.28" y="391.85" width="1.2" height="3.8" fill="#fff"/>
<rect x="344.28" y="389.65" width="1.2" height="2.2" fill="#fff"/>
<rect x="347.08" y="382.85" width="1.1" height="0.9" fill="#fff"/>
<rect x="348.57" y="384.85" width="4" height="4.8" fill="#fff"/>
<rect x="350.17" y="391.85" width="1.2" height="3.8" fill="#fff"/>
<rect x="352.97" y="382.85" width="1.1" height="0.9" fill="#fff"/>
<rect x="354.46" y="384.85" width="4" height="4.8" fill="#fff"/>
<rect x="356.06" y="391.85" width="1.2" height="3.8" fill="#fff"/>
<rect x="358.86" y="382.85" width="1.1" height="0.9" fill="#fff"/>
<rect x="360.36" y="384.85" width="4" height="4.8" fill="#fff"/>
<rect x="361.96" y="391.85" width="1.2" height="3.8" fill="#fff"/>
<rect x="364.76" y="382.85" width="1.1" height="0.9" fill="#fff"/>
<rect x="366.25" y="384.85" width="4" height="4.8" fill="#fff"/>
<rect x="367.85" y="391.85" width="1.2" height="3.8" fill="#fff"/>
<rect x="370.65" y="382.85" width="1.1" height="0.9" fill="#fff"/>
<rect x="372.14" y="384.85" width="4" height="4.8" fill="#fff"/>
<rect x="373.74" y="391.85" width="1.2" height="3.8" fill="#fff"/>
<rect x="376.54" y="382.85" width="1.1" height="0.9" fill="#fff"/>
<rect x="378.04" y="384.85" width="4" height="4.8" fill="#fff"/>
<rect x="379.64" y="391.85" width="1.2" height="3.8" fill="#fff"/>
<rect x="382.44" y="382.85" width="1.1" height="0.9" fill="#fff"/>
<rect x="383.93" y="384.85" width="4" height="4.8" fill="#fff"/>
<rect x="385.53" y="391.85" width="1.2" height="3.8" fill="#fff"/>
<rect x="388.33" y="382.85" width="1.1" height="0.9" fill="#fff"/>
<rect x="389.82" y="384.85" width="4" height="4.8" fill="#fff"/>
<rect x="391.42" y="391.85" width="1.2" height="3.8" fill="#fff"/>
<rect x="391.42" y="389.65" width="1.2" height="2.2" fill="#fff"/>
<rect x="394.22" y="382.85" width="1.1" height="0.9" fill="#fff"/>
<rect x="395.72" y="384.85" width="4" height="4.8" fill="#fff"/>
<rect x="397.32" y="391.85" width="1.2" height="3.8" fill="#fff"/>
<rect x="400.12" y="382.85" width="1.1" height="0.9" fill="#fff"/>
<rect x="401.61" y="384.85" width="4" height="4.8" fill="#fff"/>
<rect x="403.21" y="391.85" width="1.2" height="3.8" fill="#fff"/>
<rect x="406.01" y="382.85" width="1.1" height="0.9" fill="#fff"/>
<rect x="407.5" y="384.85" width="4" height="4.8" fill="#fff"/>
<rect x="409.1" y="391.85" width="1.2" height="3.8" fill="#fff"/>
<rect x="411.9" y="382.85" width="1.1" height="0.9" fill="#fff"/>
<rect x="413.39" y="384.85" width="4" height="4.8" fill="#fff"/>
<rect x="415" y="391.85" width="1.2" height="3.8" fill="#fff"/>
<rect x="417.79" y="382.85" width="1.1" height="0.9" fill="#fff"/>
<rect x="419.29" y="384.85" width="4" height="4.8" fill="#fff"/>
<rect x="420.89" y="391.85" width="1.2" height="3.8" fill="#fff"/>
<rect x="423.69" y="382.85" width="1.1" height="0.9" fill="#fff"/>
<rect x="425.18" y="384.85" width="4" height="4.8" fill="#fff"/>
<rect x="426.78" y="391.85" width="1.2" height="3.8" fill="#fff"/>
<rect x="426.78" y="389.65" width="1.2" height="2.2" fill="#fff"/>
<rect x="429.58" y="382.85" width="1.1" height="0.9" fill="#fff"/>
<rect x="431.07" y="384.85" width="4" height="4.8" fill="#fff"/>
<rect x="432.67" y="391.85" width="1.2" height="3.8" fill="#fff"/>
<rect x="435.47" y="382.85" width="1.1" height="0.9" fill="#fff"/>
<rect x="436.97" y="384.85" width="4" height="4.8" fill="#fff"/>
<rect x="438.57" y="391.85" width="1.2" height="3.8" fill="#fff"/>
<rect x="441.37" y="382.85" width="1.1" height="0.9" fill="#fff"/>
<rect x="442.86" y="384.85" width="4" height="4.8" fill="#fff"/>
<rect x="444.46" y="391.85" width="1.2" height="3.8" fill="#fff"/>
<rect x="447.26" y="382.85" width="1.1" height="0.9" fill="#fff"/>
<rect x="448.75" y="384.85" width="4" height="4.8" fill="#fff"/>
<rect x="450.35" y="391.85" width="1.2" height="3.8" fill="#fff"/>
<rect x="453.15" y="382.85" width="1.1" height="0.9" fill="#fff"/>
<rect x="454.65" y="384.85" width="4" height="4.8" fill="#fff"/>
<rect x="456.25" y="391.85" width="1.2" height="3.8" fill="#fff"/>
<rect x="459.05" y="382.85" width="1.1" height="0.9" fill="#fff"/>
<rect x="460.54" y="384.85" width="4" height="4.8" fill="#fff"/>
<rect x="462.14" y="391.85" width="1.2" height="3.8" fill="#fff"/>
<rect x="462.14" y="389.65" width="1.2" height="2.2" fill="#fff"/>
<rect x="464.94" y="382.85" width="1.1" height="0.9" fill="#fff"/>
<rect x="466.43" y="384.85" width="4" height="4.8" fill="#fff"/>
<rect x="468.03" y="391.85" width="1.2" height="3.8" fill="#fff"/>
<rect x="470.83" y="382.85" width="1.1" height="0.9" fill="#fff"/>
<rect x="472.32" y="384.85" width="4" height="4.8" fill="#fff"/>
<rect x="473.93" y="391.85" width="1.2" height="3.8" fill="#fff"/>
<rect x="476.72" y="382.85" width="1.1" height="0.9" fill="#fff"/>
<rect x="478.22" y="384.85" width="4" height="4.8" fill="#fff"/>
<rect x="479.82" y="391.85" width="1.2" height="3.8" fill="#fff"/>
<rect x="482.62" y="382.85" width="1.1" height="0.9" fill="#fff"/>
<rect x="484.11" y="384.85" width="4" height="4.8" fill="#fff"/>
<rect x="485.71" y="391.85" width="1.2" height="3.8" fill="#fff"/>
<rect x="488.51" y="382.85" width="1.1" height="0.9" fill="#fff"/>
<rect x="490" y="384.85" width="4" height="4.8" fill="#fff"/>
<rect x="491.6" y="391.85" width="1.2" height="3.8" fill="#fff"/>
<rect x="494.4" y="382.85" width="1.1" height="0.9" fill="#fff"/>
<rect x="322" y="382.85" width="1" height="0.9" fill="#fff"/>
<rect x="322" y="407.05" width="174.8" height="13.6" fill="#000"/>
<rect x="325" y="409.05" width="4" height="4.8" fill="#fff"/>
<rect x="326.6" y="416.05" width="1.2" height="3.8" fill="#fff"/>
<rect x="330.89" y="409.05" width="4" height="4.8" fill="#fff"/>
<rect x="332.49" y="416.05" width="1.2" height="3.8" fill="#fff"/>
<rect x="336.79" y="409.05" width="4" height="4.8" fill="#fff"/>
<rect x="338.39" y="416.05" width="1.2" height="3.8" fill="#fff"/>
<rect x="342.68" y="409.05" width="4" height="4.8" fill="#fff"/>
<rect x="344.28" y="416.05" width="1.2" height="3.8" fill="#fff"/>
<rect x="344.28" y="413.85" width="1.2" height="2.2" fill="#fff"/>
<rect x="348.57" y="409.05" width="4" height="4.8" fill="#fff"/>
<rect x="350.17" y="416.05" width="1.2" height="3.8" fill="#fff"/>
<rect x="354.46" y="409.05" width="4" height="4.8" fill="#fff"/>
<rect x="356.06" y="416.05" width="1.2" height="3.8" fill="#fff"/>
<rect x="360.36" y="409.05" width="4" height="4.8" fill="#fff"/>
<rect x="361.96" y="416.05" width="1.2" height="3.8" fill="#fff"/>
<rect x="366.25" y="409.05" width="4" height="4.8" fill="#fff"/>
<rect x="367.85" y="416.05" width="1.2" height="3.8" fill="#fff"/>
<rect x="372.14" y="409.05" width="4" height="4.8" fill="#fff"/>
<rect x="373.74" y="416.05" width="1.2" height="3.8" fill="#fff"/>
<rect x="378.04" y="409.05" width="4" height="4.8" fill="#fff"/>
<rect x="379.64" y="416.05" width="1.2" height="3.8" fill="#fff"/>
<rect x="383.93" y="409.05" width="4" height="4.8" fill="#fff"/>
<rect x="385.53" y="416.05" width="1.2" height="3.8" fill="#fff"/>
<rect x="389.82" y="409.05" width="4" height="4.8" fill="#fff"/>
<rect x="391.42" y="416.05" width="1.2" height="3.8" fill="#fff"/>
<rect x="391.42" y="413.85" width="1.2" height="2.2" fill="#fff"/>
<rect x="395.72" y="409.05" width="4" height="4.8" fill="#fff"/>
<rect x="397.32" y="416.05" width="1.2" height="3.8" fill="#fff"/>
<rect x="401.61" y="409.05" width="4" height="4.8" fill="#fff"/>
<rect x="403.21" y="416.05" width="1.2" height="3.8" fill="#fff"/>
<rect x="407.5" y="409.05" width="4" height="4.8" fill="#fff"/>
<rect x="409.1" y="416.05" width="1.2" height="3.8" fill="#fff"/>
<rect x="413.39" y="409.05" width="4" height="4.8" fill="#fff"/>
<rect x="415" y="416.05" width="1.2" height="3.8" fill="#fff"/>
<rect x="419.29" y="409.05" width="4" height="4.8" fill="#fff"/>
<rect x="420.89" y="416.05" width="1.2" height="3.8" fill="#fff"/>
<rect x="425.18" y="409.05" width="4" height="4.8" fill="#fff"/>
<rect x="426.78" y="416.05" width="1.2" height="3.8" fill="#fff"/>
<rect x="426.78" y="413.85" width="1.2" height="2.2" fill="#fff"/>
<rect x="431.07" y="409.05" width="4" height="4.8" fill="#fff"/>
<rect x="432.67" y="416.05" width="1.2" height="3.8" fill="#fff"/>
<rect x="436.97" y="409.05" width="4" height="4.8" fill="#fff"/>
<rect x="438.57" y="416.05" width="1.2" height="3.8" fill="#fff"/>
<rect x="442.86" y="409.05" width="4" height="4.8" fill="#fff"/>
<rect x="444.46" y="416.05" width="1.2" height="3.8" fill="#fff"/>
<rect x="448.75" y="409.05" width="4" height="4.8" fill="#fff"/>
<rect x="450.35" y="416.05" width="1.2" height="3.8" fill="#fff"/>
<rect x="454.65" y="409.05" width="4" height="4.8" fill="#fff"/>
<rect x="456.25" y="416.05" width="1.2" height="3.8" fill="#fff"/>
<rect x="460.54" y="409.05" width="4" height="4.8" fill="#fff"/>
<rect x="462.14" y="416.05" width="1.2" height="3.8" fill="#fff"/>
<rect x="462.14" y="413.85" width="1.2" height="2.2" fill="#fff"/>
<rect x="466.43" y="409.05" width="4" height="4.8" fill="#fff"/>
<rect x="468.03" y="416.05" width="1.2" height="3.8" fill="#fff"/>
<rect x="472.32" y="409.05" width="4" height="4.8" fill="#fff"/>
<rect x="473.93" y="416.05" width="1.2" height="3.8" fill="#fff"/>
<rect x="478.22" y="409.05" width="4" height="4.8" fill="#fff"/>
<rect x="479.82" y="416.05" width="1.2" height="3.8" fill="#fff"/>
<rect x="484.11" y="409.05" width="4" height="4.8" fill="#fff"/>
<rect x="485.71" y="416.05" width="1.2" height="3.8" fill="#fff"/>
<rect x="490" y="409.05" width="4" height="4.8" fill="#fff"/>
<rect x="491.6" y="416.05" width="1.2" height="3.8" fill="#fff"/>
<rect x="322.5" y="399.45" width="29.4" height="5.4" fill="#fff" stroke="#000" stroke-width="1"/>
<rect x="359.1" y="399.45" width="29.4" height="5.4" fill="#fff" stroke="#000" stroke-width="1"/>
<rect x="395.7" y="399.45" width="29.4" height="5.4" fill="#fff" stroke="#000" stroke-width="1"/>
<rect x="432.3" y="399.45" width="29.4" height="5.4" fill="#fff" stroke="#000" stroke-width="1"/>
<rect x="468.9" y="399.45" width="29.4" height="5.4" fill="#fff" stroke="#000" stroke-width="1"/>
<rect x="305" y="399.45" width="13.1" height="5.4" fill="#fff" stroke="#000" stroke-width="1"/>
<rect x="501.8" y="399.45" width="14.5" height="5.4" fill="#fff" stroke="#000" stroke-width="1"/>
<rect x="304" y="380.55" width="3.7" height="16.8" fill="#000"/>
<rect x="304" y="405.35" width="3.7" height="16.95" fill="#000"/>
<rect x="510.8" y="380.55" width="3.8" height="16.8" fill="#000"/>
<rect x="510.8" y="405.35" width="3.8" height="16.95" fill="#000"/>
<path d="M307.7,383.65 H317.4 V393.15 H314.3" fill="none" stroke="#000" stroke-width="1"/>
<path d="M307.7,391.85 H310.5 V390.25 H314.3 V397.05 H307.7" fill="none" stroke="#000" stroke-width="1"/>
<path d="M307.7,408.15 H317.4 V417.65 H314.3" fill="none" stroke="#000" stroke-width="1"/>
<path d="M307.7,416.35 H310.5 V414.75 H314.3 V421.55 H307.7" fill="none" stroke="#000" stroke-width="1"/>
<path d="M510.8,383.65 H501.1 V393.15 H504.2" fill="none" stroke="#000" stroke-width="1"/>
<path d="M510.8,391.85 H508 V390.25 H504.2 V397.05 H510.8" fill="none" stroke="#000" stroke-width="1"/>
<path d="M510.8,408.15 H501.1 V417.65 H504.2" fill="none" stroke="#000" stroke-width="1"/>
<path d="M510.8,416.35 H508 V414.75 H504.2 V421.55 H510.8" fill="none" stroke="#000" stroke-width="1"/>
<rect x="296.3" y="384.35" width="7.7" height="1" fill="#000"/>
<rect x="514.6" y="384.35" width="7.4" height="1" fill="#000"/>
<rect x="296.3" y="390.95" width="7.7" height="1" fill="#000"/>
<rect x="514.6" y="390.95" width="7.4" height="1" fill="#000"/>
<rect x="296.3" y="408.25" width="7.7" height="1" fill="#000"/>
<rect x="514.6" y="408.25" width="7.4" height="1" fill="#000"/>
<rect x="296.3" y="414.95" width="7.7" height="1" fill="#000"/>
<rect x="514.6" y="414.95" width="7.4" height="1" fill="#000"/>
<rect x="296.3" y="422" width="225.7" height="1" fill="#000"/>
<rect x="322" y="424.6" width="174.8" height="13.6" fill="#000"/>
<rect x="325" y="426.6" width="4" height="4.8" fill="#fff"/>
<rect x="326.6" y="433.6" width="1.2" height="3.8" fill="#fff"/>
<rect x="329.4" y="424.6" width="1.1" height="0.9" fill="#fff"/>
<rect x="330.89" y="426.6" width="4" height="4.8" fill="#fff"/>
<rect x="332.49" y="433.6" width="1.2" height="3.8" fill="#fff"/>
<rect x="335.29" y="424.6" width="1.1" height="0.9" fill="#fff"/>
<rect x="336.79" y="426.6" width="4" height="4.8" fill="#fff"/>
<rect x="338.39" y="433.6" width="1.2" height="3.8" fill="#fff"/>
<rect x="341.19" y="424.6" width="1.1" height="0.9" fill="#fff"/>
<rect x="342.68" y="426.6" width="4" height="4.8" fill="#fff"/>
<rect x="344.28" y="433.6" width="1.2" height="3.8" fill="#fff"/>
<rect x="344.28" y="431.4" width="1.2" height="2.2" fill="#fff"/>
<rect x="347.08" y="424.6" width="1.1" height="0.9" fill="#fff"/>
<rect x="348.57" y="426.6" width="4" height="4.8" fill="#fff"/>
<rect x="350.17" y="433.6" width="1.2" height="3.8" fill="#fff"/>
<rect x="352.97" y="424.6" width="1.1" height="0.9" fill="#fff"/>
<rect x="354.46" y="426.6" width="4" height="4.8" fill="#fff"/>
<rect x="356.06" y="433.6" width="1.2" height="3.8" fill="#fff"/>
<rect x="358.86" y="424.6" width="1.1" height="0.9" fill="#fff"/>
<rect x="360.36" y="426.6" width="4" height="4.8" fill="#fff"/>
<rect x="361.96" y="433.6" width="1.2" height="3.8" fill="#fff"/>
<rect x="364.76" y="424.6" width="1.1" height="0.9" fill="#fff"/>
<rect x="366.25" y="426.6" width="4" height="4.8" fill="#fff"/>
<rect x="367.85" y="433.6" width="1.2" height="3.8" fill="#fff"/>
<rect x="370.65" y="424.6" width="1.1" height="0.9" fill="#fff"/>
<rect x="372.14" y="426.6" width="4" height="4.8" fill="#fff"/>
<rect x="373.74" y="433.6" width="1.2" height="3.8" fill="#fff"/>
<rect x="376.54" y="424.6" width="1.1" height="0.9" fill="#fff"/>
<rect x="378.04" y="426.6" width="4" height="4.8" fill="#fff"/>
<rect x="379.64" y="433.6" width="1.2" height="3.8" fill="#fff"/>
<rect x="382.44" y="424.6" width="1.1" height="0.9" fill="#fff"/>
<rect x="383.93" y="426.6" width="4" height="4.8" fill="#fff"/>
<rect x="385.53" y="433.6" width="1.2" height="3.8" fill="#fff"/>
<rect x="388.33" y="424.6" width="1.1" height="0.9" fill="#fff"/>
<rect x="389.82" y="426.6" width="4" height="4.8" fill="#fff"/>
<rect x="391.42" y="433.6" width="1.2" height="3.8" fill="#fff"/>
<rect x="391.42" y="431.4" width="1.2" height="2.2" fill="#fff"/>
<rect x="394.22" y="424.6" width="1.1" height="0.9" fill="#fff"/>
<rect x="395.72" y="426.6" width="4" height="4.8" fill="#fff"/>
<rect x="397.32" y="433.6" width="1.2" height="3.8" fill="#fff"/>
<rect x="400.12" y="424.6" width="1.1" height="0.9" fill="#fff"/>
<rect x="401.61" y="426.6" width="4" height="4.8" fill="#fff"/>
<rect x="403.21" y="433.6" width="1.2" height="3.8" fill="#fff"/>
<rect x="406.01" y="424.6" width="1.1" height="0.9" fill="#fff"/>
<rect x="407.5" y="426.6" width="4" height="4.8" fill="#fff"/>
<rect x="409.1" y="433.6" width="1.2" height="3.8" fill="#fff"/>
<rect x="411.9" y="424.6" width="1.1" height="0.9" fill="#fff"/>
<rect x="413.39" y="426.6" width="4" height="4.8" fill="#fff"/>
<rect x="415" y="433.6" width="1.2" height="3.8" fill="#fff"/>
<rect x="417.79" y="424.6" width="1.1" height="0.9" fill="#fff"/>
<rect x="419.29" y="426.6" width="4" height="4.8" fill="#fff"/>
<rect x="420.89" y="433.6" width="1.2" height="3.8" fill="#fff"/>
<rect x="423.69" y="424.6" width="1.1" height="0.9" fill="#fff"/>
<rect x="425.18" y="426.6" width="4" height="4.8" fill="#fff"/>
<rect x="426.78" y="433.6" width="1.2" height="3.8" fill="#fff"/>
<rect x="426.78" y="431.4" width="1.2" height="2.2" fill="#fff"/>
<rect x="429.58" y="424.6" width="1.1" height="0.9" fill="#fff"/>
<rect x="431.07" y="426.6" width="4" height="4.8" fill="#fff"/>
<rect x="432.67" y="433.6" width="1.2" height="3.8" fill="#fff"/>
<rect x="435.47" y="424.6" width="1.1" height="0.9" fill="#fff"/>
<rect x="436.97" y="426.6" width="4" height="4.8" fill="#fff"/>
<rect x="438.57" y="433.6" width="1.2" height="3.8" fill="#fff"/>
<rect x="441.37" y="424.6" width="1.1" height="0.9" fill="#fff"/>
<rect x="442.86" y="426.6" width="4" height="4.8" fill="#fff"/>
<rect x="444.46" y="433.6" width="1.2" height="3.8" fill="#fff"/>
<rect x="447.26" y="424.6" width="1.1" height="0.9" fill="#fff"/>
<rect x="448.75" y="426.6" width="4" height="4.8" fill="#fff"/>
<rect x="450.35" y="433.6" width="1.2" height="3.8" fill="#fff"/>
<rect x="453.15" y="424.6" width="1.1" height="0.9" fill="#fff"/>
<rect x="454.65" y="426.6" width="4" height="4.8" fill="#fff"/>
<rect x="456.25" y="433.6" width="1.2" height="3.8" fill="#fff"/>
<rect x="459.05" y="424.6" width="1.1" height="0.9" fill="#fff"/>
<rect x="460.54" y="426.6" width="4" height="4.8" fill="#fff"/>
<rect x="462.14" y="433.6" width="1.2" height="3.8" fill="#fff"/>
<rect x="462.14" y="431.4" width="1.2" height="2.2" fill="#fff"/>
<rect x="464.94" y="424.6" width="1.1" height="0.9" fill="#fff"/>
<rect x="466.43" y="426.6" width="4" height="4.8" fill="#fff"/>
<rect x="468.03" y="433.6" width="1.2" height="3.8" fill="#fff"/>
<rect x="470.83" y="424.6" width="1.1" height="0.9" fill="#fff"/>
<rect x="472.32" y="426.6" width="4" height="4.8" fill="#fff"/>
<rect x="473.93" y="433.6" width="1.2" height="3.8" fill="#fff"/>
<rect x="476.72" y="424.6" width="1.1" height="0.9" fill="#fff"/>
<rect x="478.22" y="426.6" width="4" height="4.8" fill="#fff"/>
<rect x="479.82" y="433.6" width="1.2" height="3.8" fill="#fff"/>
<rect x="482.62" y="424.6" width="1.1" height="0.9" fill="#fff"/>
<rect x="484.11" y="426.6" width="4" height="4.8" fill="#fff"/>
<rect x="485.71" y="433.6" width="1.2" height="3.8" fill="#fff"/>
<rect x="488.51" y="424.6" width="1.1" height="0.9" fill="#fff"/>
<rect x="490" y="426.6" width="4" height="4.8" fill="#fff"/>
<rect x="491.6" y="433.6" width="1.2" height="3.8" fill="#fff"/>
<rect x="494.4" y="424.6" width="1.1" height="0.9" fill="#fff"/>
<rect x="322" y="424.6" width="1" height="0.9" fill="#fff"/>
<rect x="322" y="448.8" width="174.8" height="13.6" fill="#000"/>
<rect x="325" y="450.8" width="4" height="4.8" fill="#fff"/>
<rect x="326.6" y="457.8" width="1.2" height="3.8" fill="#fff"/>
<rect x="330.89" y="450.8" width="4" height="4.8" fill="#fff"/>
<rect x="332.49" y="457.8" width="1.2" height="3.8" fill="#fff"/>
<rect x="336.79" y="450.8" width="4" height="4.8" fill="#fff"/>
<rect x="338.39" y="457.8" width="1.2" height="3.8" fill="#fff"/>
<rect x="342.68" y="450.8" width="4" height="4.8" fill="#fff"/>
<rect x="344.28" y="457.8" width="1.2" height="3.8" fill="#fff"/>
<rect x="344.28" y="455.6" width="1.2" height="2.2" fill="#fff"/>
<rect x="348.57" y="450.8" width="4" height="4.8" fill="#fff"/>
<rect x="350.17" y="457.8" width="1.2" height="3.8" fill="#fff"/>
<rect x="354.46" y="450.8" width="4" height="4.8" fill="#fff"/>
<rect x="356.06" y="457.8" width="1.2" height="3.8" fill="#fff"/>
<rect x="360.36" y="450.8" width="4" height="4.8" fill="#fff"/>
<rect x="361.96" y="457.8" width="1.2" height="3.8" fill="#fff"/>
<rect x="366.25" y="450.8" width="4" height="4.8" fill="#fff"/>
<rect x="367.85" y="457.8" width="1.2" height="3.8" fill="#fff"/>
<rect x="372.14" y="450.8" width="4" height="4.8" fill="#fff"/>
<rect x="373.74" y="457.8" width="1.2" height="3.8" fill="#fff"/>
<rect x="378.04" y="450.8" width="4" height="4.8" fill="#fff"/>
<rect x="379.64" y="457.8" width="1.2" height="3.8" fill="#fff"/>
<rect x="383.93" y="450.8" width="4" height="4.8" fill="#fff"/>
<rect x="385.53" y="457.8" width="1.2" height="3.8" fill="#fff"/>
<rect x="389.82" y="450.8" width="4" height="4.8" fill="#fff"/>
<rect x="391.42" y="457.8" width="1.2" height="3.8" fill="#fff"/>
<rect x="391.42" y="455.6" width="1.2" height="2.2" fill="#fff"/>
<rect x="395.72" y="450.8" width="4" height="4.8" fill="#fff"/>
<rect x="397.32" y="457.8" width="1.2" height="3.8" fill="#fff"/>
<rect x="401.61" y="450.8" width="4" height="4.8" fill="#fff"/>
<rect x="403.21" y="457.8" width="1.2" height="3.8" fill="#fff"/>
<rect x="407.5" y="450.8" width="4" height="4.8" fill="#fff"/>
<rect x="409.1" y="457.8" width="1.2" height="3.8" fill="#fff"/>
<rect x="413.39" y="450.8" width="4" height="4.8" fill="#fff"/>
<rect x="415" y="457.8" width="1.2" height="3.8" fill="#fff"/>
<rect x="419.29" y="450.8" width="4" height="4.8" fill="#fff"/>
<rect x="420.89" y="457.8" width="1.2" height="3.8" fill="#fff"/>
<rect x="425.18" y="450.8" width="4" height="4.8" fill="#fff"/>
<rect x="426.78" y="457.8" width="1.2" height="3.8" fill="#fff"/>
<rect x="426.78" y="455.6" width="1.2" height="2.2" fill="#fff"/>
<rect x="431.07" y="450.8" width="4" height="4.8" fill="#fff"/>
<rect x="432.67" y="457.8" width="1.2" height="3.8" fill="#fff"/>
<rect x="436.97" y="450.8" width="4" height="4.8" fill="#fff"/>
<rect x="438.57" y="457.8" width="1.2" height="3.8" fill="#fff"/>
<rect x="442.86" y="450.8" width="4" height="4.8" fill="#fff"/>
<rect x="444.46" y="457.8" width="1.2" height="3.8" fill="#fff"/>
<rect x="448.75" y="450.8" width="4" height="4.8" fill="#fff"/>
<rect x="450.35" y="457.8" width="1.2" height="3.8" fill="#fff"/>
<rect x="454.65" y="450.8" width="4" height="4.8" fill="#fff"/>
<rect x="456.25" y="457.8" width="1.2" height="3.8" fill="#fff"/>
<rect x="460.54" y="450.8" width="4" height="4.8" fill="#fff"/>
<rect x="462.14" y="457.8" width="1.2" height="3.8" fill="#fff"/>
<rect x="462.14" y="455.6" width="1.2" height="2.2" fill="#fff"/>
<rect x="466.43" y="450.8" width="4" height="4.8" fill="#fff"/>
<rect x="468.03" y="457.8" width="1.2" height="3.8" fill="#fff"/>
<rect x="472.32" y="450.8" width="4" height="4.8" fill="#fff"/>
<rect x="473.93" y="457.8" width="1.2" height="3.8" fill="#fff"/>
<rect x="478.22" y="450.8" width="4" height="4.8" fill="#fff"/>
<rect x="479.82" y="457.8" width="1.2" height="3.8" fill="#fff"/>
<rect x="484.11" y="450.8" width="4" height="4.8" fill="#fff"/>
<rect x="485.71" y="457.8" width="1.2" height="3.8" fill="#fff"/>
<rect x="490" y="450.8" width="4" height="4.8" fill="#fff"/>
<rect x="491.6" y="457.8" width="1.2" height="3.8" fill="#fff"/>
<rect x="322.5" y="441.2" width="29.4" height="5.4" fill="#fff" stroke="#000" stroke-width="1"/>
<rect x="359.1" y="441.2" width="29.4" height="5.4" fill="#fff" stroke="#000" stroke-width="1"/>
<rect x="395.7" y="441.2" width="29.4" height="5.4" fill="#fff" stroke="#000" stroke-width="1"/>
<rect x="432.3" y="441.2" width="29.4" height="5.4" fill="#fff" stroke="#000" stroke-width="1"/>
<rect x="468.9" y="441.2" width="29.4" height="5.4" fill="#fff" stroke="#000" stroke-width="1"/>
<rect x="305" y="441.2" width="13.1" height="5.4" fill="#fff" stroke="#000" stroke-width="1"/>
<rect x="501.8" y="441.2" width="14.5" height="5.4" fill="#fff" stroke="#000" stroke-width="1"/>
<rect x="304" y="422.3" width="3.7" height="16.8" fill="#000"/>
<rect x="304" y="447.1" width="3.7" height="16.95" fill="#000"/>
<rect x="510.8" y="422.3" width="3.8" height="16.8" fill="#000"/>
<rect x="510.8" y="447.1" width="3.8" height="16.95" fill="#000"/>
<path d="M307.7,425.4 H317.4 V434.9 H314.3" fill="none" stroke="#000" stroke-width="1"/>
<path d="M307.7,433.6 H310.5 V432 H314.3 V438.8 H307.7" fill="none" stroke="#000" stroke-width="1"/>
<path d="M307.7,449.9 H317.4 V459.4 H314.3" fill="none" stroke="#000" stroke-width="1"/>
<path d="M307.7,458.1 H310.5 V456.5 H314.3 V463.3 H307.7" fill="none" stroke="#000" stroke-width="1"/>
<path d="M510.8,425.4 H501.1 V434.9 H504.2" fill="none" stroke="#000" stroke-width="1"/>
<path d="M510.8,433.6 H508 V432 H504.2 V438.8 H510.8" fill="none" stroke="#000" stroke-width="1"/>
<path d="M510.8,449.9 H501.1 V459.4 H504.2" fill="none" stroke="#000" stroke-width="1"/>
<path d="M510.8,458.1 H508 V456.5 H504.2 V463.3 H510.8" fill="none" stroke="#000" stroke-width="1"/>
<rect x="296.3" y="426.1" width="7.7" height="1" fill="#000"/>
<rect x="514.6" y="426.1" width="7.4" height="1" fill="#000"/>
<rect x="296.3" y="432.7" width="7.7" height="1" fill="#000"/>
<rect x="514.6" y="432.7" width="7.4" height="1" fill="#000"/>
<rect x="296.3" y="450" width="7.7" height="1" fill="#000"/>
<rect x="514.6" y="450" width="7.4" height="1" fill="#000"/>
<rect x="296.3" y="456.7" width="7.7" height="1" fill="#000"/>
<rect x="514.6" y="456.7" width="7.4" height="1" fill="#000"/>
<rect x="296.3" y="463.75" width="225.7" height="1" fill="#000"/>
<rect x="322" y="466.35" width="174.8" height="13.6" fill="#000"/>
<rect x="325" y="468.35" width="4" height="4.8" fill="#fff"/>
<rect x="326.6" y="475.35" width="1.2" height="3.8" fill="#fff"/>
<rect x="329.4" y="466.35" width="1.1" height="0.9" fill="#fff"/>
<rect x="330.89" y="468.35" width="4" height="4.8" fill="#fff"/>
<rect x="332.49" y="475.35" width="1.2" height="3.8" fill="#fff"/>
<rect x="335.29" y="466.35" width="1.1" height="0.9" fill="#fff"/>
<rect x="336.79" y="468.35" width="4" height="4.8" fill="#fff"/>
<rect x="338.39" y="475.35" width="1.2" height="3.8" fill="#fff"/>
<rect x="341.19" y="466.35" width="1.1" height="0.9" fill="#fff"/>
<rect x="342.68" y="468.35" width="4" height="4.8" fill="#fff"/>
<rect x="344.28" y="475.35" width="1.2" height="3.8" fill="#fff"/>
<rect x="344.28" y="473.15" width="1.2" height="2.2" fill="#fff"/>
<rect x="347.08" y="466.35" width="1.1" height="0.9" fill="#fff"/>
<rect x="348.57" y="468.35" width="4" height="4.8" fill="#fff"/>
<rect x="350.17" y="475.35" width="1.2" height="3.8" fill="#fff"/>
<rect x="352.97" y="466.35" width="1.1" height="0.9" fill="#fff"/>
<rect x="354.46" y="468.35" width="4" height="4.8" fill="#fff"/>
<rect x="356.06" y="475.35" width="1.2" height="3.8" fill="#fff"/>
<rect x="358.86" y="466.35" width="1.1" height="0.9" fill="#fff"/>
<rect x="360.36" y="468.35" width="4" height="4.8" fill="#fff"/>
<rect x="361.96" y="475.35" width="1.2" height="3.8" fill="#fff"/>
<rect x="364.76" y="466.35" width="1.1" height="0.9" fill="#fff"/>
<rect x="366.25" y="468.35" width="4" height="4.8" fill="#fff"/>
<rect x="367.85" y="475.35" width="1.2" height="3.8" fill="#fff"/>
<rect x="370.65" y="466.35" width="1.1" height="0.9" fill="#fff"/>
<rect x="372.14" y="468.35" width="4" height="4.8" fill="#fff"/>
<rect x="373.74" y="475.35" width="1.2" height="3.8" fill="#fff"/>
<rect x="376.54" y="466.35" width="1.1" height="0.9" fill="#fff"/>
<rect x="378.04" y="468.35" width="4" height="4.8" fill="#fff"/>
<rect x="379.64" y="475.35" width="1.2" height="3.8" fill="#fff"/>
<rect x="382.44" y="466.35" width="1.1" height="0.9" fill="#fff"/>
<rect x="383.93" y="468.35" width="4" height="4.8" fill="#fff"/>
<rect x="385.53" y="475.35" width="1.2" height="3.8" fill="#fff"/>
<rect x="388.33" y="466.35" width="1.1" height="0.9" fill="#fff"/>
<rect x="389.82" y="468.35" width="4" height="4.8" fill="#fff"/>
<rect x="391.42" y="475.35" width="1.2" height="3.8" fill="#fff"/>
<rect x="391.42" y="473.15" width="1.2" height="2.2" fill="#fff"/>
<rect x="394.22" y="466.35" width="1.1" height="0.9" fill="#fff"/>
<rect x="395.72" y="468.35" width="4" height="4.8" fill="#fff"/>
<rect x="397.32" y="475.35" width="1.2" height="3.8" fill="#fff"/>
<rect x="400.12" y="466.35" width="1.1" height="0.9" fill="#fff"/>
<rect x="401.61" y="468.35" width="4" height="4.8" fill="#fff"/>
<rect x="403.21" y="475.35" width="1.2" height="3.8" fill="#fff"/>
<rect x="406.01" y="466.35" width="1.1" height="0.9" fill="#fff"/>
<rect x="407.5" y="468.35" width="4" height="4.8" fill="#fff"/>
<rect x="409.1" y="475.35" width="1.2" height="3.8" fill="#fff"/>
<rect x="411.9" y="466.35" width="1.1" height="0.9" fill="#fff"/>
<rect x="413.39" y="468.35" width="4" height="4.8" fill="#fff"/>
<rect x="415" y="475.35" width="1.2" height="3.8" fill="#fff"/>
<rect x="417.79" y="466.35" width="1.1" height="0.9" fill="#fff"/>
<rect x="419.29" y="468.35" width="4" height="4.8" fill="#fff"/>
<rect x="420.89" y="475.35" width="1.2" height="3.8" fill="#fff"/>
<rect x="423.69" y="466.35" width="1.1" height="0.9" fill="#fff"/>
<rect x="425.18" y="468.35" width="4" height="4.8" fill="#fff"/>
<rect x="426.78" y="475.35" width="1.2" height="3.8" fill="#fff"/>
<rect x="426.78" y="473.15" width="1.2" height="2.2" fill="#fff"/>
<rect x="429.58" y="466.35" width="1.1" height="0.9" fill="#fff"/>
<rect x="431.07" y="468.35" width="4" height="4.8" fill="#fff"/>
<rect x="432.67" y="475.35" width="1.2" height="3.8" fill="#fff"/>
<rect x="435.47" y="466.35" width="1.1" height="0.9" fill="#fff"/>
<rect x="436.97" y="468.35" width="4" height="4.8" fill="#fff"/>
<rect x="438.57" y="475.35" width="1.2" height="3.8" fill="#fff"/>
<rect x="441.37" y="466.35" width="1.1" height="0.9" fill="#fff"/>
<rect x="442.86" y="468.35" width="4" height="4.8" fill="#fff"/>
<rect x="444.46" y="475.35" width="1.2" height="3.8" fill="#fff"/>
<rect x="447.26" y="466.35" width="1.1" height="0.9" fill="#fff"/>
<rect x="448.75" y="468.35" width="4" height="4.8" fill="#fff"/>
<rect x="450.35" y="475.35" width="1.2" height="3.8" fill="#fff"/>
<rect x="453.15" y="466.35" width="1.1" height="0.9" fill="#fff"/>
<rect x="454.65" y="468.35" width="4" height="4.8" fill="#fff"/>
<rect x="456.25" y="475.35" width="1.2" height="3.8" fill="#fff"/>
<rect x="459.05" y="466.35" width="1.1" height="0.9" fill="#fff"/>
<rect x="460.54" y="468.35" width="4" height="4.8" fill="#fff"/>
<rect x="462.14" y="475.35" width="1.2" height="3.8" fill="#fff"/>
<rect x="462.14" y="473.15" width="1.2" height="2.2" fill="#fff"/>
<rect x="464.94" y="466.35" width="1.1" height="0.9" fill="#fff"/>
<rect x="466.43" y="468.35" width="4" height="4.8" fill="#fff"/>
<rect x="468.03" y="475.35" width="1.2" height="3.8" fill="#fff"/>
<rect x="470.83" y="466.35" width="1.1" height="0.9" fill="#fff"/>
<rect x="472.32" y="468.35" width="4" height="4.8" fill="#fff"/>
<rect x="473.93" y="475.35" width="1.2" height="3.8" fill="#fff"/>
<rect x="476.72" y="466.35" width="1.1" height="0.9" fill="#fff"/>
<rect x="478.22" y="468.35" width="4" height="4.8" fill="#fff"/>
<rect x="479.82" y="475.35" width="1.2" height="3.8" fill="#fff"/>
<rect x="482.62" y="466.35" width="1.1" height="0.9" fill="#fff"/>
<rect x="484.11" y="468.35" width="4" height="4.8" fill="#fff"/>
<rect x="485.71" y="475.35" width="1.2" height="3.8" fill="#fff"/>
<rect x="488.51" y="466.35" width="1.1" height="0.9" fill="#fff"/>
<rect x="490" y="468.35" width="4" height="4.8" fill="#fff"/>
<rect x="491.6" y="475.35" width="1.2" height="3.8" fill="#fff"/>
<rect x="494.4" y="466.35" width="1.1" height="0.9" fill="#fff"/>
<rect x="322" y="466.35" width="1" height="0.9" fill="#fff"/>
<rect x="322" y="490.55" width="174.8" height="13.6" fill="#000"/>
<rect x="325" y="492.55" width="4" height="4.8" fill="#fff"/>
<rect x="326.6" y="499.55" width="1.2" height="3.8" fill="#fff"/>
<rect x="330.89" y="492.55" width="4" height="4.8" fill="#fff"/>
<rect x="332.49" y="499.55" width="1.2" height="3.8" fill="#fff"/>
<rect x="336.79" y="492.55" width="4" height="4.8" fill="#fff"/>
<rect x="338.39" y="499.55" width="1.2" height="3.8" fill="#fff"/>
<rect x="342.68" y="492.55" width="4" height="4.8" fill="#fff"/>
<rect x="344.28" y="499.55" width="1.2" height="3.8" fill="#fff"/>
<rect x="344.28" y="497.35" width="1.2" height="2.2" fill="#fff"/>
<rect x="348.57" y="492.55" width="4" height="4.8" fill="#fff"/>
<rect x="350.17" y="499.55" width="1.2" height="3.8" fill="#fff"/>
<rect x="354.46" y="492.55" width="4" height="4.8" fill="#fff"/>
<rect x="356.06" y="499.55" width="1.2" height="3.8" fill="#fff"/>
<rect x="360.36" y="492.55" width="4" height="4.8" fill="#fff"/>
<rect x="361.96" y="499.55" width="1.2" height="3.8" fill="#fff"/>
<rect x="366.25" y="492.55" width="4" height="4.8" fill="#fff"/>
<rect x="367.85" y="499.55" width="1.2" height="3.8" fill="#fff"/>
<rect x="372.14" y="492.55" width="4" height="4.8" fill="#fff"/>
<rect x="373.74" y="499.55" width="1.2" height="3.8" fill="#fff"/>
<rect x="378.04" y="492.55" width="4" height="4.8" fill="#fff"/>
<rect x="379.64" y="499.55" width="1.2" height="3.8" fill="#fff"/>
<rect x="383.93" y="492.55" width="4" height="4.8" fill="#fff"/>
<rect x="385.53" y="499.55" width="1.2" height="3.8" fill="#fff"/>
<rect x="389.82" y="492.55" width="4" height="4.8" fill="#fff"/>
<rect x="391.42" y="499.55" width="1.2" height="3.8" fill="#fff"/>
<rect x="391.42" y="497.35" width="1.2" height="2.2" fill="#fff"/>
<rect x="395.72" y="492.55" width="4" height="4.8" fill="#fff"/>
<rect x="397.32" y="499.55" width="1.2" height="3.8" fill="#fff"/>
<rect x="401.61" y="492.55" width="4" height="4.8" fill="#fff"/>
<rect x="403.21" y="499.55" width="1.2" height="3.8" fill="#fff"/>
<rect x="407.5" y="492.55" width="4" height="4.8" fill="#fff"/>
<rect x="409.1" y="499.55" width="1.2" height="3.8" fill="#fff"/>
<rect x="413.39" y="492.55" width="4" height="4.8" fill="#fff"/>
<rect x="415" y="499.55" width="1.2" height="3.8" fill="#fff"/>
<rect x="419.29" y="492.55" width="4" height="4.8" fill="#fff"/>
<rect x="420.89" y="499.55" width="1.2" height="3.8" fill="#fff"/>
<rect x="425.18" y="492.55" width="4" height="4.8" fill="#fff"/>
<rect x="426.78" y="499.55" width="1.2" height="3.8" fill="#fff"/>
<rect x="426.78" y="497.35" width="1.2" height="2.2" fill="#fff"/>
<rect x="431.07" y="492.55" width="4" height="4.8" fill="#fff"/>
<rect x="432.67" y="499.55" width="1.2" height="3.8" fill="#fff"/>
<rect x="436.97" y="492.55" width="4" height="4.8" fill="#fff"/>
<rect x="438.57" y="499.55" width="1.2" height="3.8" fill="#fff"/>
<rect x="442.86" y="492.55" width="4" height="4.8" fill="#fff"/>
<rect x="444.46" y="499.55" width="1.2" height="3.8" fill="#fff"/>
<rect x="448.75" y="492.55" width="4" height="4.8" fill="#fff"/>
<rect x="450.35" y="499.55" width="1.2" height="3.8" fill="#fff"/>
<rect x="454.65" y="492.55" width="4" height="4.8" fill="#fff"/>
<rect x="456.25" y="499.55" width="1.2" height="3.8" fill="#fff"/>
<rect x="460.54" y="492.55" width="4" height="4.8" fill="#fff"/>
<rect x="462.14" y="499.55" width="1.2" height="3.8" fill="#fff"/>
<rect x="462.14" y="497.35" width="1.2" height="2.2" fill="#fff"/>
<rect x="466.43" y="492.55" width="4" height="4.8" fill="#fff"/>
<rect x="468.03" y="499.55" width="1.2" height="3.8" fill="#fff"/>
<rect x="472.32" y="492.55" width="4" height="4.8" fill="#fff"/>
<rect x="473.93" y="499.55" width="1.2" height="3.8" fill="#fff"/>
<rect x="478.22" y="492.55" width="4" height="4.8" fill="#fff"/>
<rect x="479.82" y="499.55" width="1.2" height="3.8" fill="#fff"/>
<rect x="484.11" y="492.55" width="4" height="4.8" fill="#fff"/>
<rect x="485.71" y="499.55" width="1.2" height="3.8" fill="#fff"/>
<rect x="490" y="492.55" width="4" height="4.8" fill="#fff"/>
<rect x="491.6" y="499.55" width="1.2" height="3.8" fill="#fff"/>
<rect x="322.5" y="482.95" width="29.4" height="5.4" fill="#fff" stroke="#000" stroke-width="1"/>
<rect x="359.1" y="482.95" width="29.4" height="5.4" fill="#fff" stroke="#000" stroke-width="1"/>
<rect x="395.7" y="482.95" width="29.4" height="5.4" fill="#fff" stroke="#000" stroke-width="1"/>
<rect x="432.3" y="482.95" width="29.4" height="5.4" fill="#fff" stroke="#000" stroke-width="1"/>
<rect x="468.9" y="482.95" width="29.4" height="5.4" fill="#fff" stroke="#000" stroke-width="1"/>
<rect x="305" y="482.95" width="13.1" height="5.4" fill="#fff" stroke="#000" stroke-width="1"/>
<rect x="501.8" y="482.95" width="14.5" height="5.4" fill="#fff" stroke="#000" stroke-width="1"/>
<rect x="304" y="464.05" width="3.7" height="16.8" fill="#000"/>
<rect x="304" y="488.85" width="3.7" height="16.95" fill="#000"/>
<rect x="510.8" y="464.05" width="3.8" height="16.8" fill="#000"/>
<rect x="510.8" y="488.85" width="3.8" height="16.95" fill="#000"/>
<path d="M307.7,467.15 H317.4 V476.65 H314.3" fill="none" stroke="#000" stroke-width="1"/>
<path d="M307.7,475.35 H310.5 V473.75 H314.3 V480.55 H307.7" fill="none" stroke="#000" stroke-width="1"/>
<path d="M307.7,491.65 H317.4 V501.15 H314.3" fill="none" stroke="#000" stroke-width="1"/>
<path d="M307.7,499.85 H310.5 V498.25 H314.3 V505.05 H307.7" fill="none" stroke="#000" stroke-width="1"/>
<path d="M510.8,467.15 H501.1 V476.65 H504.2" fill="none" stroke="#000" stroke-width="1"/>
<path d="M510.8,475.35 H508 V473.75 H504.2 V480.55 H510.8" fill="none" stroke="#000" stroke-width="1"/>
<path d="M510.8,491.65 H501.1 V501.15 H504.2" fill="none" stroke="#000" stroke-width="1"/>
<path d="M510.8,499.85 H508 V498.25 H504.2 V505.05 H510.8" fill="none" stroke="#000" stroke-width="1"/>
<rect x="296.3" y="467.85" width="7.7" height="1" fill="#000"/>
<rect x="514.6" y="467.85" width="7.4" height="1" fill="#000"/>
<rect x="296.3" y="474.45" width="7.7" height="1" fill="#000"/>
<rect x="514.6" y="474.45" width="7.4" height="1" fill="#000"/>
<rect x="296.3" y="491.75" width="7.7" height="1" fill="#000"/>
<rect x="514.6" y="491.75" width="7.4" height="1" fill="#000"/>
<rect x="296.3" y="498.45" width="7.7" height="1" fill="#000"/>
<rect x="514.6" y="498.45" width="7.4" height="1" fill="#000"/>
<rect x="296.3" y="338.8" width="1" height="167.8" fill="#000"/>
<rect x="521" y="338.8" width="1" height="167.8" fill="#000"/>
<rect x="296.3" y="505.6" width="225.7" height="1.1" fill="#000"/>
<rect x="380" y="373" width="58.3" height="17" fill="#000"/>
<rect x="381.1" y="374" width="56.1" height="13.8" fill="#fff"/>
<path d="M 385.5,374.5 L 385.5,383.5 M 385.5,374.5 L 389.5,374.5 Q 391.5,374.5 391.5,376.5 Q 391.5,378.5 389.5,378.5 L 385.5,378.5 M 389.5,378.5 Q 391.5,378.5 391.5,380.5 Q 391.5,383.5 389.5,383.5 L 385.5,383.5" fill="none" stroke="#000" stroke-width="1" stroke-linecap="square" stroke-linejoin="round"/>
<path d="M 394.5,383.5 L 397.5,374.5 L 400.5,383.5 M 395.5,380.5 L 399.5,380.5" fill="none" stroke="#000" stroke-width="1" stroke-linecap="square" stroke-linejoin="round"/>
<path d="M 403.5,383.5 L 403.5,374.5 L 408.5,383.5 L 408.5,374.5" fill="none" stroke="#000" stroke-width="1" stroke-linecap="square" stroke-linejoin="round"/>
<path d="M 411.5,374.5 L 411.5,383.5 M 417.5,374.5 L 411.5,379.5 M 413.5,378.5 L 417.5,383.5" fill="none" stroke="#000" stroke-width="1" stroke-linecap="square" stroke-linejoin="round"/>
<path d="M 426.5,376.5 L 428.5,374.5 L 428.5,383.5" fill="none" stroke="#000" stroke-width="1" stroke-linecap="square" stroke-linejoin="round"/>
<rect x="380" y="456" width="58.3" height="17" fill="#000"/>
<rect x="381.1" y="457" width="56.1" height="13.8" fill="#fff"/>
<path d="M 385.5,458.5 L 385.5,466.5 M 385.5,458.5 L 389.5,458.5 Q 391.5,458.5 391.5,460.5 Q 391.5,462.5 389.5,462.5 L 385.5,462.5 M 389.5,462.5 Q 391.5,462.5 391.5,464.5 Q 391.5,466.5 389.5,466.5 L 385.5,466.5" fill="none" stroke="#000" stroke-width="1" stroke-linecap="square" stroke-linejoin="round"/>
<path d="M 393.5,466.5 L 396.5,458.5 L 399.5,466.5 M 394.5,464.5 L 398.5,464.5" fill="none" stroke="#000" stroke-width="1" stroke-linecap="square" stroke-linejoin="round"/>
<path d="M 402.5,466.5 L 402.5,458.5 L 407.5,466.5 L 407.5,458.5" fill="none" stroke="#000" stroke-width="1" stroke-linecap="square" stroke-linejoin="round"/>
<path d="M 410.5,458.5 L 410.5,466.5 M 415.5,458.5 L 410.5,463.5 M 412.5,462.5 L 415.5,466.5" fill="none" stroke="#000" stroke-width="1" stroke-linecap="square" stroke-linejoin="round"/>
<path d="M 426.5,458.5 Q 424.5,460.5 424.5,462.5 Q 424.5,465.5 426.5,466.5 Q 429.5,465.5 429.5,462.5 Q 429.5,460.5 426.5,458.5 Z" fill="none" stroke="#000" stroke-width="1" stroke-linecap="square" stroke-linejoin="round"/>
<rect x="601" y="356" width="14" height="7" fill="#000"/>
<rect x="602" y="357" width="1" height="5" fill="#fff"/>
<rect x="607" y="357" width="2" height="5" fill="#fff"/>
<rect x="612.7" y="357" width="1" height="5" fill="#fff"/>
<path d="M554,353.8 L554.6,352.4 L556,351.8 L582.5,351.8 L583.9,352.4 L584.5,353.8 L584.5,356.8 L600.5,359.3 L584.5,361.8 L584.5,365.8 L583.9,367.2 L582.5,367.8 L556,367.8 L554.6,367.2 L554,365.8 Z" transform="translate(0.9,-0.9)" fill="#000" stroke="#000" stroke-width="2" stroke-linejoin="round"/>
<path d="M554,353.8 L554.6,352.4 L556,351.8 L582.5,351.8 L583.9,352.4 L584.5,353.8 L584.5,356.8 L600.5,359.3 L584.5,361.8 L584.5,365.8 L583.9,367.2 L582.5,367.8 L556,367.8 L554.6,367.2 L554,365.8 Z" fill="#fff" stroke="#000" stroke-width="2" stroke-linejoin="round"/>
<path d="M 561.5,354.5 L 561.5,360.5 Q 561.5,362.5 559.5,362.5 Q 558.5,362.5 558.5,360.5" fill="none" stroke="#000" stroke-width="1" stroke-linecap="square" stroke-linejoin="round"/>
<path d="M 566.5,362.5 L 566.5,354.5 L 569.5,354.5 Q 570.5,354.5 570.5,356.5 Q 570.5,358.5 569.5,358.5 L 566.5,358.5" fill="none" stroke="#000" stroke-width="1" stroke-linecap="square" stroke-linejoin="round"/>
<path d="M 575.5,356.5 L 577.5,354.5 L 577.5,362.5" fill="none" stroke="#000" stroke-width="1" stroke-linecap="square" stroke-linejoin="round"/>
<path d="M558,372 H614.8 V432.8 H554 V376 Z" fill="#000" stroke="none" stroke-width="1"/>
<rect x="556.6" y="374" width="50.4" height="5" fill="#fff"/>
<rect x="555.7" y="374" width="6.3" height="52.2" fill="#fff"/>
<rect x="562.6" y="425.4" width="44.4" height="4.4" fill="#fff"/>
<rect x="608.2" y="380" width="4.6" height="43.8" fill="#fff"/>
<rect x="573.2" y="374" width="1.1" height="5" fill="#000"/>
<rect x="573.2" y="425.4" width="1.1" height="4.6" fill="#000"/>
<rect x="584.2" y="374" width="1.1" height="5" fill="#000"/>
<rect x="584.2" y="425.4" width="1.1" height="4.6" fill="#000"/>
<rect x="593.5" y="374" width="1.1" height="5" fill="#000"/>
<rect x="593.5" y="425.4" width="1.1" height="4.6" fill="#000"/>
<rect x="602.4" y="374" width="1.1" height="5" fill="#000"/>
<rect x="602.4" y="425.4" width="1.1" height="4.6" fill="#000"/>
<rect x="555.7" y="386.5" width="6.3" height="1.1" fill="#000"/>
<rect x="555.7" y="395.6" width="6.3" height="1.1" fill="#000"/>
<rect x="555.7" y="406.4" width="6.3" height="1.1" fill="#000"/>
<rect x="555.7" y="415.1" width="6.3" height="1.1" fill="#000"/>
<rect x="608.2" y="384.5" width="4.6" height="1.1" fill="#000"/>
<rect x="608.2" y="393.2" width="4.6" height="1.1" fill="#000"/>
<rect x="608.2" y="402.5" width="4.6" height="1.1" fill="#000"/>
<rect x="608.2" y="413.2" width="4.6" height="1.1" fill="#000"/>
<rect x="608.2" y="421.7" width="4.6" height="1.1" fill="#000"/>
<rect x="561.5" y="378.5" width="6" height="6" fill="#fff"/>
<path d="M567,378.9 H608.2 V425.4 H562 V384 Z" fill="#000" stroke="none" stroke-width="1"/>
<circle cx="558.9" cy="376.7" r="2.6" fill="#fff" stroke="#000" stroke-width="1.2" shape-rendering="geometricPrecision"/>
<path d="M637.2,356 H652 V358 H664.2 V356 H679.2 V482 H637.2 Z" fill="#000" stroke="none" stroke-width="1"/>
<path d="M677.5,358.1 V480.5" stroke="#fff" stroke-width="1" stroke-dasharray="3.4,2.85" fill="none"/>
<rect x="644" y="411.8" width="27.4" height="15.2" fill="#fff" rx="2.5"/>
<path d="M 646.5,413.5 L 646.5,422.5 M 651.5,413.5 L 646.5,419.5 M 648.5,417.5 L 651.5,422.5" fill="none" stroke="#000" stroke-width="1" stroke-linecap="square" stroke-linejoin="round"/>
<path d="M 655.5,413.5 L 655.5,422.5 M 655.5,413.5 L 658.5,413.5 Q 660.5,413.5 660.5,415.5 Q 660.5,417.5 658.5,417.5 L 655.5,417.5 M 658.5,417.5 Q 660.5,417.5 660.5,420.5 Q 660.5,422.5 658.5,422.5 L 655.5,422.5" fill="none" stroke="#000" stroke-width="1" stroke-linecap="square" stroke-linejoin="round"/>
<path d="M 664.5,413.5 L 664.5,422.5 L 667.5,422.5 Q 669.5,422.5 669.5,419.5 L 669.5,416.5 Q 669.5,413.5 667.5,413.5 L 664.5,413.5" fill="none" stroke="#000" stroke-width="1" stroke-linecap="square" stroke-linejoin="round"/>
<rect x="690.5" y="394.5" width="23.8" height="111" fill="#fff" stroke="#000" stroke-width="1"/>
<rect x="706" y="394" width="1" height="112" fill="#000"/>
<path d="M693.5,394.5 V397.3 H701 V394.5 M694.8,394.5 L697,396.6 L699.4,394.5" fill="none" stroke="#000" stroke-width="1"/>
<rect x="693.9" y="400.9" width="6.6" height="5.6" fill="#fff" stroke="#000" stroke-width="1"/>
<rect x="693.9" y="410.21" width="6.6" height="5.6" fill="#fff" stroke="#000" stroke-width="1"/>
<rect x="693.9" y="419.52" width="6.6" height="5.6" fill="#fff" stroke="#000" stroke-width="1"/>
<rect x="693.9" y="428.83" width="6.6" height="5.6" fill="#fff" stroke="#000" stroke-width="1"/>
<rect x="693.9" y="438.14" width="6.6" height="5.6" fill="#fff" stroke="#000" stroke-width="1"/>
<rect x="693.9" y="447.45" width="6.6" height="5.6" fill="#fff" stroke="#000" stroke-width="1"/>
<rect x="693.9" y="456.76" width="6.6" height="5.6" fill="#fff" stroke="#000" stroke-width="1"/>
<rect x="693.9" y="466.07" width="6.6" height="5.6" fill="#fff" stroke="#000" stroke-width="1"/>
<rect x="693.9" y="475.38" width="6.6" height="5.6" fill="#fff" stroke="#000" stroke-width="1"/>
<rect x="693.9" y="484.69" width="6.6" height="5.6" fill="#fff" stroke="#000" stroke-width="1"/>
<rect x="693.9" y="494" width="6.6" height="5.6" fill="#fff" stroke="#000" stroke-width="1"/>
<rect x="702.2" y="395.8" width="2" height="6.8" fill="#000"/>
<rect x="708.7" y="396.5" width="2" height="5.6" fill="#fff" stroke="#000" stroke-width="1" rx="1"/>
<rect x="707" y="398.2" width="1.2" height="3" fill="#000"/>
<rect x="711.2" y="398" width="1" height="3" fill="#000"/>
<rect x="702.2" y="405.04" width="2" height="6.8" fill="#000"/>
<rect x="708.7" y="405.72" width="2" height="5.6" fill="#fff" stroke="#000" stroke-width="1" rx="1"/>
<rect x="707" y="407.42" width="1.2" height="3" fill="#000"/>
<rect x="711.2" y="407.22" width="1" height="3" fill="#000"/>
<rect x="702.2" y="414.28" width="2" height="6.8" fill="#000"/>
<rect x="708.7" y="414.94" width="2" height="5.6" fill="#fff" stroke="#000" stroke-width="1" rx="1"/>
<rect x="707" y="416.64" width="1.2" height="3" fill="#000"/>
<rect x="711.2" y="416.44" width="1" height="3" fill="#000"/>
<rect x="702.2" y="423.52" width="2" height="6.8" fill="#000"/>
<rect x="708.7" y="424.16" width="2" height="5.6" fill="#fff" stroke="#000" stroke-width="1" rx="1"/>
<rect x="707" y="425.86" width="1.2" height="3" fill="#000"/>
<rect x="711.2" y="425.66" width="1" height="3" fill="#000"/>
<rect x="702.2" y="432.76" width="2" height="6.8" fill="#000"/>
<rect x="708.7" y="433.38" width="2" height="5.6" fill="#fff" stroke="#000" stroke-width="1" rx="1"/>
<rect x="707" y="435.08" width="1.2" height="3" fill="#000"/>
<rect x="711.2" y="434.88" width="1" height="3" fill="#000"/>
<rect x="702.2" y="442" width="2" height="6.8" fill="#000"/>
<rect x="708.7" y="442.6" width="2" height="5.6" fill="#fff" stroke="#000" stroke-width="1" rx="1"/>
<rect x="707" y="444.3" width="1.2" height="3" fill="#000"/>
<rect x="711.2" y="444.1" width="1" height="3" fill="#000"/>
<rect x="702.2" y="451.24" width="2" height="6.8" fill="#000"/>
<rect x="708.7" y="451.82" width="2" height="5.6" fill="#fff" stroke="#000" stroke-width="1" rx="1"/>
<rect x="707" y="453.52" width="1.2" height="3" fill="#000"/>
<rect x="711.2" y="453.32" width="1" height="3" fill="#000"/>
<rect x="702.2" y="460.48" width="2" height="6.8" fill="#000"/>
<rect x="708.7" y="461.04" width="2" height="5.6" fill="#fff" stroke="#000" stroke-width="1" rx="1"/>
<rect x="707" y="462.74" width="1.2" height="3" fill="#000"/>
<rect x="711.2" y="462.54" width="1" height="3" fill="#000"/>
<rect x="702.2" y="469.72" width="2" height="6.8" fill="#000"/>
<rect x="708.7" y="470.26" width="2" height="5.6" fill="#fff" stroke="#000" stroke-width="1" rx="1"/>
<rect x="707" y="471.96" width="1.2" height="3" fill="#000"/>
<rect x="711.2" y="471.76" width="1" height="3" fill="#000"/>
<rect x="702.2" y="478.96" width="2" height="6.8" fill="#000"/>
<rect x="708.7" y="479.48" width="2" height="5.6" fill="#fff" stroke="#000" stroke-width="1" rx="1"/>
<rect x="707" y="481.18" width="1.2" height="3" fill="#000"/>
<rect x="711.2" y="480.98" width="1" height="3" fill="#000"/>
<rect x="702.2" y="488.2" width="2" height="6.8" fill="#000"/>
<rect x="708.7" y="488.7" width="2" height="5.6" fill="#fff" stroke="#000" stroke-width="1" rx="1"/>
<rect x="707" y="490.4" width="1.2" height="3" fill="#000"/>
<rect x="711.2" y="490.2" width="1" height="3" fill="#000"/>
<rect x="702.2" y="497.44" width="2" height="6.8" fill="#000"/>
<rect x="708.7" y="497.92" width="2" height="5.6" fill="#fff" stroke="#000" stroke-width="1" rx="1"/>
<rect x="707" y="499.62" width="1.2" height="3" fill="#000"/>
<rect x="711.2" y="499.42" width="1" height="3" fill="#000"/>
<rect x="694" y="503" width="2" height="3" fill="#000"/>
<rect x="699" y="503" width="2" height="3" fill="#000"/>
<defs><pattern id="dots" x="0" y="0" width="2" height="2" patternUnits="userSpaceOnUse"><rect x="0" y="0" width="1" height="1" fill="#000"/></pattern></defs>
<path d="M757,353.4 H775.5 Q779.6,353.6 779.6,357.5 V360.5 Q779.6,362.3 778,362.8 V370.6 Q779.8,371.2 779.8,374 Q779.8,376.6 778,377.4 V385.2 Q779.6,385.8 779.6,387.5 V390.5 Q779.6,394 775.5,394.2 H757 Q752.4,394 752.4,390.5 V387.5 Q752.4,385.8 754,385.2 V377.4 Q752.2,376.6 752.2,374 Q752.2,371.2 754,370.6 V362.8 Q752.4,362.3 752.4,360.5 V357.5 Q752.4,353.6 757,353.4 Z" fill="#fff" stroke="none" stroke-width="1"/>
<path d="M757,353.4 H775.5 Q779.6,353.6 779.6,357.5 V360.5 Q779.6,362.3 778,362.8 V370.6 Q779.8,371.2 779.8,374 Q779.8,376.6 778,377.4 V385.2 Q779.6,385.8 779.6,387.5 V390.5 Q779.6,394 775.5,394.2 H757 Q752.4,394 752.4,390.5 V387.5 Q752.4,385.8 754,385.2 V377.4 Q752.2,376.6 752.2,374 Q752.2,371.2 754,370.6 V362.8 Q752.4,362.3 752.4,360.5 V357.5 Q752.4,353.6 757,353.4 Z" fill="url(#dots)" stroke="#000" stroke-width="1.25" shape-rendering="geometricPrecision"/>
<rect x="755" y="444" width="24.3" height="37.8" fill="#000"/>
<rect x="779.3" y="440" width="3.2" height="45.6" fill="#000"/>
<rect x="782.5" y="438.2" width="3.5" height="49.8" fill="#000"/>
<rect x="748.7" y="453.2" width="5" height="7.7" fill="#fff" stroke="#000" stroke-width="1"/>
<rect x="748.7" y="464.8" width="5" height="7.7" fill="#fff" stroke="#000" stroke-width="1"/>
<rect x="752.4" y="451.5" width="2.6" height="22.5" fill="#000"/>
<rect x="753.4" y="453.3" width="1.8" height="0.9" fill="#fff"/>
<rect x="753.4" y="466" width="1.8" height="0.9" fill="#fff"/>
<rect x="753.4" y="455.3" width="1.8" height="0.9" fill="#fff"/>
<rect x="753.4" y="468" width="1.8" height="0.9" fill="#fff"/>
<rect x="753.4" y="457.3" width="1.8" height="0.9" fill="#fff"/>
<rect x="753.4" y="470" width="1.8" height="0.9" fill="#fff"/>
<rect x="753.4" y="459.3" width="1.8" height="0.9" fill="#fff"/>
<rect x="753.4" y="472" width="1.8" height="0.9" fill="#fff"/>
<rect x="752.4" y="461.8" width="2.8" height="1.8" fill="#fff"/>
<rect x="753.2" y="462.2" width="1.2" height="1" fill="#000"/>
<rect x="752" y="304" width="25.3" height="7" fill="#000"/>
<rect x="757" y="305" width="2.2" height="5" fill="#fff"/>
<rect x="762.7" y="305" width="2.1" height="5" fill="#fff"/>
<rect x="768.8" y="305" width="1.4" height="5" fill="#fff"/>
<rect x="771.2" y="305" width="5" height="5" fill="#fff"/>
<rect x="772.8" y="306.4" width="1.8" height="2.2" fill="#000"/>
<path d="M753,271.8 L753.6,270.4 L755,269.8 L774.5,269.8 L775.9,270.4 L776.5,271.8 L776.5,283.6 L775.9,285 L774.5,285.6 L766.6,285.6 L764.2,303.2 L761.8,285.6 L755,285.6 L753.6,285 L753,283.6 Z" transform="translate(0.8,0.8)" fill="#000" stroke="#000" stroke-width="2" stroke-linejoin="round"/>
<path d="M753,271.8 L753.6,270.4 L755,269.8 L774.5,269.8 L775.9,270.4 L776.5,271.8 L776.5,283.6 L775.9,285 L774.5,285.6 L766.6,285.6 L764.2,303.2 L761.8,285.6 L755,285.6 L753.6,285 L753,283.6 Z" fill="#fff" stroke="#000" stroke-width="2" stroke-linejoin="round"/>
<path d="M 760.5,273.5 L 760.5,279.5 Q 760.5,281.5 758.5,281.5 Q 757.5,281.5 757.5,279.5" fill="none" stroke="#000" stroke-width="1" stroke-linecap="square" stroke-linejoin="round"/>
<path d="M 764.5,274.5 Q 765.5,273.5 766.5,273.5 Q 768.5,273.5 768.5,275.5 Q 768.5,277.5 766.5,277.5 Q 768.5,277.5 768.5,279.5 Q 768.5,281.5 766.5,281.5 Q 765.5,281.5 764.5,279.5" fill="none" stroke="#000" stroke-width="1" stroke-linecap="square" stroke-linejoin="round"/>
</svg>
</body></html>
